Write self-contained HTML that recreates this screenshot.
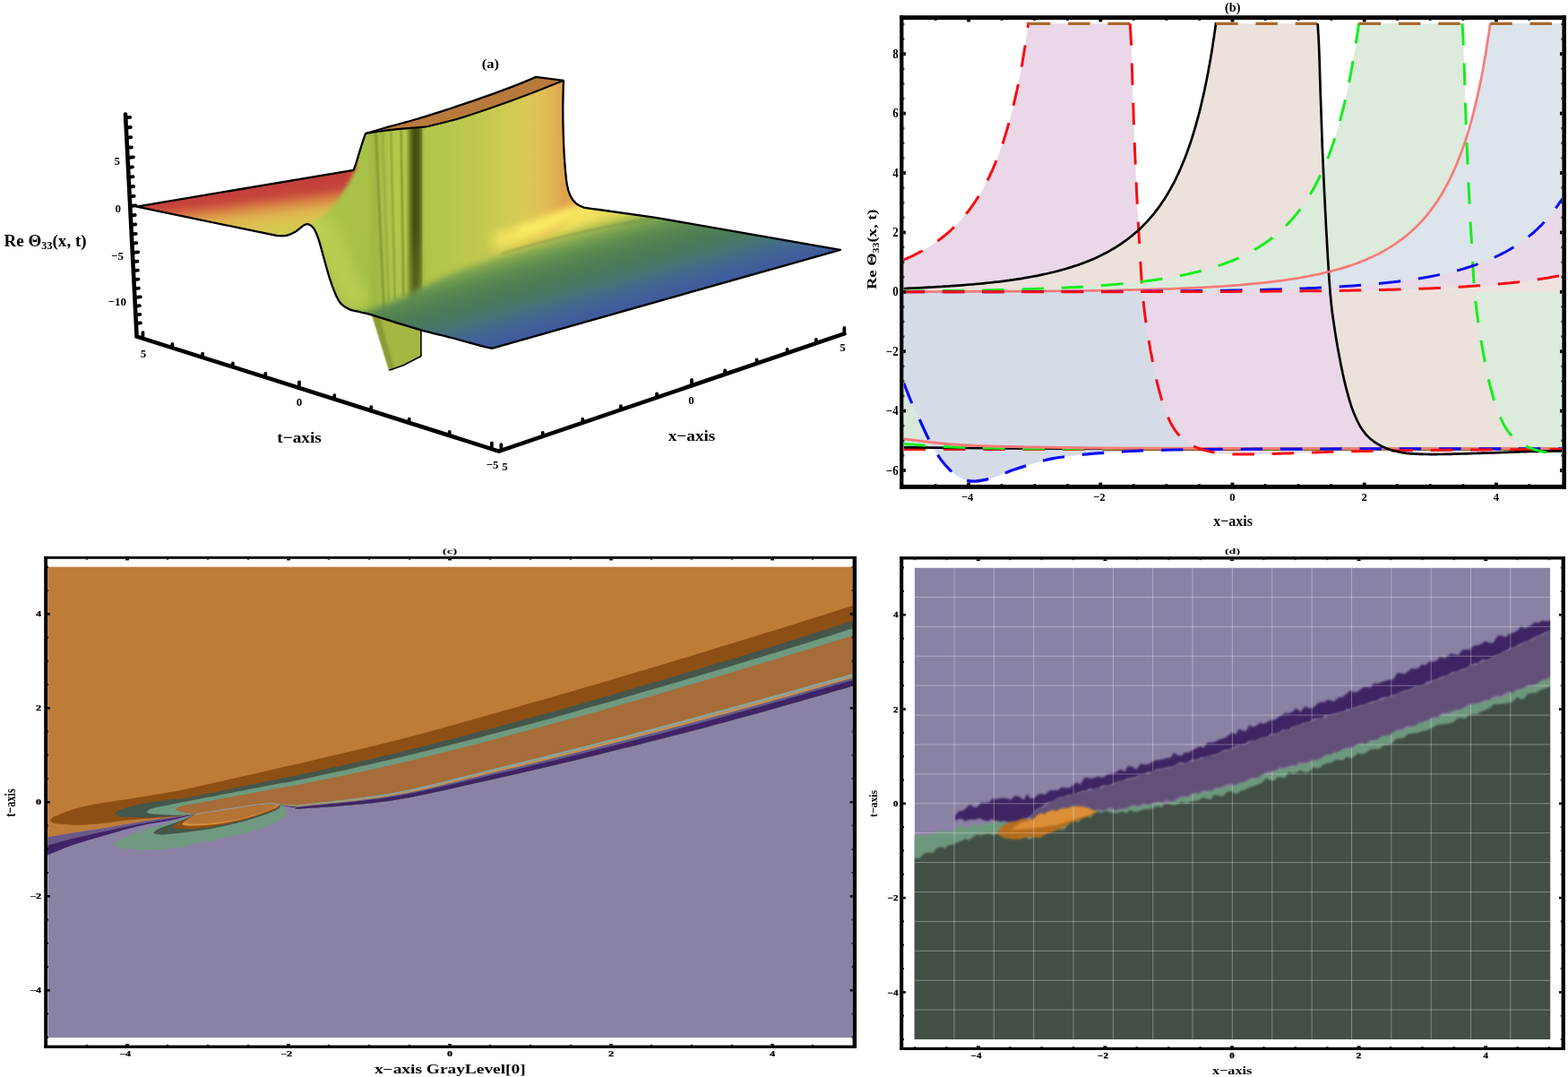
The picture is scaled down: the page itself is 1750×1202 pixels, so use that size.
<!DOCTYPE html>
<html><head><meta charset="utf-8"><title>Figure</title>
<style>
html,body{margin:0;padding:0;background:#fff;}
body{width:1750px;height:1202px;overflow:hidden;}
svg{display:block;font-family:'Liberation Serif', 'DejaVu Serif', serif;}
</style></head>
<body>
<svg width="1750" height="1202" viewBox="0 0 1750 1202">
<defs>
<clipPath id="clipC"><rect x="53.2" y="632.7" width="898.4" height="525.3"/></clipPath>
<clipPath id="clipD"><rect x="1020.6" y="633.6" width="709.6" height="526.4"/></clipPath>
<filter color-interpolation-filters="sRGB" id="blurD" x="-5%" y="-5%" width="110%" height="110%"><feGaussianBlur color-interpolation-filters="sRGB" stdDeviation="0.9"/></filter>
<clipPath id="clipB"><rect x="1008.7" y="22.3" width="734.7" height="518.5"/></clipPath>
<clipPath id="clipA"><path d="M152.4 230.6 L394.7 189.8 L394.7 189.8C395.2 188.3 396.8 184.1 397.8 181C398.8 177.9 399.7 174.5 400.8 171C401.9 167.5 403 163.7 404.2 160C405.4 156.3 407.4 150.8 408 149 L408 149C412.5 147.7 425.4 143.9 434.9 141.2C444.4 138.5 454.9 135.9 464.9 133C474.9 130.1 484.8 126.8 494.8 123.6C504.8 120.4 514.8 117 524.8 113.6C534.8 110.2 544.7 106.9 554.7 103.2C564.7 99.5 577.5 94.5 584.7 91.6C591.9 88.7 595.8 86.9 598 85.9 L628.9 89.8 L628.9 89.8C628.8 94.8 628.3 110.8 628.3 120C628.2 129.2 628.4 135.8 628.6 144.9C628.9 154 629.1 164.8 629.8 174.8C630.5 184.8 631.5 197.5 632.6 204.8C633.7 212.1 634.8 214.8 636.5 218.5C638.2 222.2 640.6 225.1 643 227.2C645.4 229.3 647.3 230.2 651 231.3C654.7 232.4 662.7 233.1 665 233.5 L665 233.5 L730 242.6 L937.8 278.8 L548.9 388.8 L548.9 388.8C546.7 388.3 543 387.7 535.5 385.7C528 383.7 514.4 379.8 503.9 377C493.3 374.2 482.8 372 472.2 369.1C461.6 366.2 450.1 362.5 440.6 359.6C431.1 356.7 421.6 353.6 415.3 351.7C409 349.8 406.9 349.6 402.7 348.5C398.5 347.4 393.8 347 390.1 345.4C386.4 343.8 383.2 342 380.6 339.1C378 336.2 376.4 332.8 374.3 328C372.2 323.2 370 317.2 367.9 310.6C365.8 304 363.7 295.9 361.6 288.5C359.5 281.1 357.2 271.9 355.3 266.4C353.4 260.9 352.2 257.9 350.5 255.3C348.8 252.7 346.8 251.2 345 250.5C343.2 249.8 342 250 339.5 251.3C337 252.6 333.2 256.5 330 258.4C326.8 260.3 323.4 262 320 262.8C316.6 263.6 311.4 263.1 309.7 263.2 L152.4 230.6Z"/></clipPath>
<filter color-interpolation-filters="sRGB" id="blA3" x="-20%" y="-20%" width="140%" height="140%"><feGaussianBlur color-interpolation-filters="sRGB" stdDeviation="3.5"/></filter>
<filter color-interpolation-filters="sRGB" id="blA6" x="-20%" y="-20%" width="140%" height="140%"><feGaussianBlur color-interpolation-filters="sRGB" stdDeviation="6"/></filter>
<filter color-interpolation-filters="sRGB" id="blA1" x="-20%" y="-20%" width="140%" height="140%"><feGaussianBlur color-interpolation-filters="sRGB" stdDeviation="1.2"/></filter>
<linearGradient id="gFloor" gradientUnits="userSpaceOnUse" x1="512.2" y1="258.9" x2="548.9" y2="388.8"><stop offset="0.000" stop-color="#f0d85a"/><stop offset="0.111" stop-color="#f2e060"/><stop offset="0.185" stop-color="#eedd5c"/><stop offset="0.237" stop-color="#d4d256"/><stop offset="0.281" stop-color="#a2b84e"/><stop offset="0.348" stop-color="#76a050"/><stop offset="0.444" stop-color="#5a8a50"/><stop offset="0.570" stop-color="#4c7c54"/><stop offset="0.674" stop-color="#487860"/><stop offset="0.763" stop-color="#45727a"/><stop offset="0.844" stop-color="#426890"/><stop offset="0.926" stop-color="#405e9a"/><stop offset="1.000" stop-color="#3f5a9c"/></linearGradient>
<linearGradient id="gWall" gradientUnits="userSpaceOnUse" x1="330" y1="0" x2="630" y2="0"><stop offset="0.0000" stop-color="#b4c94c"/><stop offset="0.0733" stop-color="#b9cd50"/><stop offset="0.1400" stop-color="#aac448"/><stop offset="0.2667" stop-color="#a9c046"/><stop offset="0.2933" stop-color="#a0b840"/><stop offset="0.3667" stop-color="#b4c84c"/><stop offset="0.4100" stop-color="#b2c64a"/><stop offset="0.4200" stop-color="#8a9a30"/><stop offset="0.4300" stop-color="#5c6a1c"/><stop offset="0.4433" stop-color="#424a10"/><stop offset="0.4567" stop-color="#4e5814"/><stop offset="0.4683" stop-color="#6e7c24"/><stop offset="0.4733" stop-color="#a8ba44"/><stop offset="0.4867" stop-color="#b4c64a"/><stop offset="0.5667" stop-color="#b6c64c"/><stop offset="0.6667" stop-color="#bfc84e"/><stop offset="0.7667" stop-color="#cccb52"/><stop offset="0.8500" stop-color="#d9c956"/><stop offset="0.9167" stop-color="#e0bf56"/><stop offset="0.9667" stop-color="#e2b052"/><stop offset="1.0000" stop-color="#e0a24e"/></linearGradient>
<linearGradient id="gPlat" gradientUnits="userSpaceOnUse" x1="28" y1="233.4" x2="35.5" y2="295.9"><stop offset="0.000" stop-color="#c33e3a"/><stop offset="0.270" stop-color="#c5443c"/><stop offset="0.365" stop-color="#cf5f40"/><stop offset="0.492" stop-color="#da8c46"/><stop offset="0.635" stop-color="#deb44e"/><stop offset="0.794" stop-color="#dac450"/><stop offset="1.000" stop-color="#cdcd52"/></linearGradient>
<filter color-interpolation-filters="sRGB" id="blA2" x="-20%" y="-20%" width="140%" height="140%"><feGaussianBlur color-interpolation-filters="sRGB" stdDeviation="2"/></filter>
<linearGradient id="gWallLow" gradientUnits="userSpaceOnUse" x1="0" y1="250" x2="0" y2="360"><stop offset="0" stop-color="#8fb44a" stop-opacity="0"/><stop offset="1" stop-color="#9cbc4c" stop-opacity="0.35"/></linearGradient>
</defs>
<rect width="1750" height="1202" fill="#fff"/>
<!-- panel c -->
<g clip-path="url(#clipC)">
<rect x="53.2" y="632.7" width="898.4" height="525.3" fill="#8b81a5" />
<path d="M53 934.4C57.8 933.6 70.8 931.1 81.6 929.4C92.4 927.6 105.9 925.9 118.1 923.9C130.3 921.9 142.5 919.5 154.7 917.5C166.9 915.5 182.9 913.2 191.3 912C199.7 910.8 200.5 910.9 205 910.3C209.5 909.7 216.2 908.9 218.4 908.6 L218.4 908.6C222 908.1 233.1 906.6 240 905.6C246.9 904.6 253.3 903.5 260 902.5C266.7 901.5 274.3 900.4 280 899.6C285.7 898.8 289.8 898.1 294 897.8C298.2 897.5 301.8 897.5 305 897.6C308.2 897.7 310.5 898.3 313 898.6C315.5 898.9 317.2 899.2 320 899.6C322.8 900 326.7 900.5 330 901C333.3 901.5 321.7 903.6 340 902.3C358.3 900.9 406.7 898 440 892.9C473.3 887.8 506.7 879.2 540 871.9C573.3 864.6 605 857.4 640 849C675 840.6 713.3 831.1 750 821.6C786.7 812.1 826.4 801.2 860 791.9C893.6 782.6 934.5 770.6 951.5 765.7C968.5 760.8 960.2 763.2 962 762.7 L962 600 L40 600Z" fill="#bf7c38"/>
<path d="M53 934.4C57.8 933.6 70.8 931.1 81.6 929.4C92.4 927.6 105.9 925.9 118.1 923.9C130.3 921.9 142.5 919.5 154.7 917.5C166.9 915.5 182.9 913.2 191.3 912C199.7 910.8 200.5 910.9 205 910.3C209.5 909.7 216.2 908.9 218.4 908.6 L218.4 908.6C216.2 909 209.5 910.2 205 911C200.5 911.8 199.7 911.9 191.3 913.4C182.9 914.9 166.9 917.4 154.7 919.8C142.5 922.1 130.3 924.8 118.1 927.5C105.9 930.2 92.4 933.1 81.6 935.8C70.8 938.5 57.8 942.2 53 943.5Z" fill="#6a598a"/>
<path d="M53 943.5C57.8 942.2 70.8 938.5 81.6 935.8C92.4 933.1 105.9 930.2 118.1 927.5C130.3 924.8 142.5 922.1 154.7 919.8C166.9 917.4 182.9 914.9 191.3 913.4C199.7 911.9 200.5 911.8 205 911C209.5 910.2 216.2 909 218.4 908.6 L218.4 908.6C216.2 909.2 209.5 910.9 205 912C200.5 913.1 199.7 913.5 191.3 915.2C182.9 916.9 166.9 919.2 154.7 922C142.5 924.8 130.3 928.6 118.1 932.1C105.9 935.6 92.4 939.4 81.6 943.1C70.8 946.8 57.8 952.6 53 954.5Z" fill="#3f2366"/>
<path d="M218.4 908.6C216.2 909.5 209.5 912.3 205 913.8C200.5 915.3 196.6 916 191.3 917.5C186 919 179.1 920.7 173 922.5C166.9 924.3 160.8 926.2 154.7 928.4C148.6 930.6 140.3 934.1 136.4 935.8C132.5 937.5 132.4 937.4 131 938.5C129.6 939.6 128.7 941.6 128.2 942.2 L128.2 942.2C128.7 942.7 129.6 944.2 131 945C132.4 945.8 132.5 946.1 136.4 946.7C140.3 947.3 148.6 948.4 154.7 948.6C160.8 948.8 166.9 948.4 173 948.1C179.1 947.8 186 947.2 191.3 946.7C196.6 946.2 200.8 946.3 205 945.4C209.2 944.5 211.6 942.4 216.6 941.2C221.6 940.1 228.7 939.6 234.8 938.5C240.9 937.4 246.9 936.2 253 934.8C259.1 933.4 265.3 932 271.4 930.3C277.5 928.6 283.6 926.9 289.7 924.8C295.8 922.7 303.4 919.6 308 917.5C312.6 915.4 315 913.7 317 912C319 910.3 319.9 909.1 320 907.4C320.1 905.6 318.8 903 317.5 901.5C316.2 900 312.9 898.8 312 898.3 L312 898.3C310.8 898 308 897 305 896.8C302 896.6 298.2 896.8 294 897.2C289.8 897.6 285.7 898.2 280 899C274.3 899.8 266.7 901 260 902C253.3 903 246.9 904.1 240 905.2C233.1 906.3 222 908 218.4 908.6Z" fill="#6f9a7f"/>
<path d="M218.4 908.6C216.2 909.6 211.1 912.4 205 914.8C198.9 917.2 187.1 921.1 182.1 923C177.1 924.9 176.8 924.9 175 926C173.2 927.1 171.8 928.8 171.1 929.4 L171.1 929.4C171.8 929.7 173.2 930.7 175 931C176.8 931.3 178.2 931.6 182.1 931.4C186 931.2 192.6 930.6 198.3 930C204.1 929.4 210.5 928.5 216.6 927.6C222.7 926.8 228.7 926 234.8 924.9C240.9 923.8 246.9 922.6 253 921.2C259.1 919.9 265.3 918.4 271.4 916.8C277.5 915.1 283.6 913.4 289.7 911.3C295.8 909.2 304.2 906 308 904.2C311.8 902.4 311.8 901.5 312.5 900.5C313.2 899.5 312.1 898.7 312 898.3 L312 898.3C310.8 898 308 897 305 896.8C302 896.6 298.2 896.8 294 897.2C289.8 897.6 285.7 898.2 280 899C274.3 899.8 266.7 901 260 902C253.3 903 246.9 904.1 240 905.2C233.1 906.3 222 908 218.4 908.6Z" fill="#45564b"/>
<path d="M218.4 908.6C216.2 909.8 208.6 914 205 915.8C201.4 917.6 199.1 918.4 197 919.5C194.9 920.6 193 922 192.2 922.5 L192.2 922.5C192.8 922.9 193.9 924.1 196 924.6C198.1 925.1 201.6 925.1 205 925.2C208.4 925.3 211.6 925.6 216.6 925.2C221.6 924.8 228.7 924 234.8 923C240.9 922 246.9 920.7 253 919.4C259.1 918.1 265.3 916.8 271.4 915.2C277.5 913.6 283.6 911.8 289.7 909.7C295.8 907.7 304.4 904.5 308 902.9C311.6 901.2 310.8 900.6 311.5 899.8C312.2 899 311.9 898.5 312 898.3 L312 898.3C310.8 898 308 897 305 896.8C302 896.6 298.2 896.8 294 897.2C289.8 897.6 285.7 898.2 280 899C274.3 899.8 266.7 901 260 902C253.3 903 246.9 904.1 240 905.2C233.1 906.3 222 908 218.4 908.6Z" fill="#8d4f13"/>
<path d="M218.4 908.6C216.7 909.8 210.6 914.2 208 916C205.4 917.8 203.8 918.9 203 919.5 L203 919.5C203.5 919.8 203.7 920.9 206 921.2C208.3 921.6 211.8 921.7 216.6 921.6C221.4 921.5 228.7 921.2 234.8 920.6C240.9 920 246.9 919 253 917.9C259.1 916.8 265.3 915.6 271.4 914C277.5 912.4 283.9 910.5 289.7 908.5C295.5 906.5 302.5 903.8 306 902.3C309.5 900.8 309.5 900.2 310.5 899.5C311.5 898.8 311.8 898.5 312 898.3 L312 898.3C310.8 898 308 897 305 896.8C302 896.6 298.2 896.8 294 897.2C289.8 897.6 285.7 898.2 280 899C274.3 899.8 266.7 901 260 902C253.3 903 246.9 904.1 240 905.2C233.1 906.3 222 908 218.4 908.6Z" fill="#d89040"/>
<path d="M218.4 908.6C217.3 909.4 213.8 912 212 913.5C210.2 915 208.2 916.8 207.5 917.5 L207.5 917.5C208.1 917.8 208.8 918.9 211 919.2C213.2 919.6 217 919.7 221 919.6C225 919.5 229.5 919.4 234.8 918.9C240.1 918.4 246.9 917.6 253 916.6C259.1 915.6 265.3 914.4 271.4 912.9C277.5 911.4 284.4 909.1 289.7 907.4C295 905.6 300.1 903.8 303.4 902.4C306.7 901 308.1 900 309.5 899.3C310.9 898.6 311.6 898.5 312 898.3 L312 898.3C310.8 898 308 897 305 896.8C302 896.6 298.2 896.8 294 897.2C289.8 897.6 285.7 898.2 280 899C274.3 899.8 266.7 901 260 902C253.3 903 246.9 904.1 240 905.2C233.1 906.3 222 908 218.4 908.6Z" fill="#b57436"/>
<path d="M56 915.6C56.4 915.1 57.3 913.4 58.5 912.5C59.7 911.6 59.4 911.7 63.3 910.2C67.1 908.7 75.5 905.2 81.6 903.3C87.7 901.4 93.7 900 99.8 898.7C105.9 897.4 112 896.5 118.1 895.5C124.2 894.5 130.3 893.7 136.4 892.8C142.5 891.9 148.6 891 154.7 890C160.8 889 166.9 887.9 173 886.9C179.1 885.9 186 884.7 191.3 883.7C196.6 882.8 199.3 882.4 205 881.2C210.7 880 214.6 879.2 225.7 876.7C236.8 874.2 257.7 869.4 271.4 866.3C285.1 863.2 296.6 860.5 308 857.9C319.4 855.3 318 856 340 850.8C362 845.6 406.7 835.3 440 826.8C473.3 818.2 506.7 808.8 540 799.5C573.3 790.2 605 781.3 640 771.1C675 760.9 713.3 749.5 750 738.5C786.7 727.5 826.4 715.2 860 704.8C893.6 694.4 934.5 681.3 951.5 675.9C968.5 670.5 960.2 673.1 962 672.6 L962 762.7C960.2 763.2 968.5 760.8 951.5 765.7C934.5 770.6 893.6 782.6 860 791.9C826.4 801.2 786.7 812.1 750 821.6C713.3 831.1 675 840.6 640 849C605 857.4 573.3 864.6 540 871.9C506.7 879.2 473.3 887.8 440 892.9C406.7 898 358.3 900.9 340 902.3C321.7 903.6 333.3 901.5 330 901C326.7 900.5 322.8 900 320 899.6C317.2 899.2 315.5 898.9 313 898.6C310.5 898.3 308.2 897.7 305 897.6C301.8 897.5 298.2 897.5 294 897.8C289.8 898.1 285.7 898.8 280 899.6C274.3 900.4 266.7 901.5 260 902.5C253.3 903.5 246.9 904.6 240 905.6C233.1 906.6 222 908.1 218.4 908.6 L218.4 908.6C216.2 908.9 209.5 909.8 205 910.3C200.5 910.8 196.6 911.1 191.3 911.5C186 911.9 179.1 912.4 173 912.9C166.9 913.4 160.8 913.8 154.7 914.3C148.6 914.8 142.5 915.4 136.4 916.1C130.3 916.8 124.2 917.7 118.1 918.4C112 919.1 105.9 919.8 99.8 920.2C93.7 920.6 87.7 920.9 81.6 920.7C75.5 920.6 67.1 919.8 63.3 919.3C59.4 918.8 59.7 918.6 58.5 918C57.3 917.4 56.4 916 56 915.6Z" fill="#8d4f13"/>
<path d="M128.2 908.3C128.6 907.8 129.1 906.4 130.5 905.5C131.9 904.6 132.4 904.2 136.4 902.9C140.4 901.6 148.6 899.2 154.7 897.8C160.8 896.4 166.9 895.5 173 894.6C179.1 893.7 186 892.9 191.3 892.3C196.6 891.7 199.3 891.8 205 890.9C210.7 890 214.6 889.2 225.7 887C236.8 884.8 257.7 880.4 271.4 877.6C285.1 874.8 296.6 872.3 308 870C319.4 867.7 318 868.4 340 863.6C362 858.8 406.7 849.1 440 841C473.3 832.9 506.7 824.1 540 815.2C573.3 806.3 605 797.6 640 787.7C675 777.8 713.3 766.6 750 755.7C786.7 744.8 826.4 732.6 860 722.2C893.6 711.8 934.5 698.7 951.5 693.3C968.5 687.9 960.2 690.5 962 690 L962 762.7C960.2 763.2 968.5 760.8 951.5 765.7C934.5 770.6 893.6 782.6 860 791.9C826.4 801.2 786.7 812.1 750 821.6C713.3 831.1 675 840.6 640 849C605 857.4 573.3 864.6 540 871.9C506.7 879.2 473.3 887.8 440 892.9C406.7 898 358.3 900.9 340 902.3C321.7 903.6 333.3 901.5 330 901C326.7 900.5 322.8 900 320 899.6C317.2 899.2 315.5 898.9 313 898.6C310.5 898.3 308.2 897.7 305 897.6C301.8 897.5 298.2 897.5 294 897.8C289.8 898.1 285.7 898.8 280 899.6C274.3 900.4 266.7 901.5 260 902.5C253.3 903.5 246.9 904.6 240 905.6C233.1 906.6 222 908.1 218.4 908.6 L218.4 908.6C216.2 908.8 209.5 909.6 205 910C200.5 910.4 196.6 910.8 191.3 911.1C186 911.4 179.1 911.8 173 912C166.9 912.2 160.8 912.5 154.7 912.4C148.6 912.3 140.4 911.8 136.4 911.5C132.4 911.2 131.9 910.9 130.5 910.4C129.1 909.9 128.6 908.6 128.2 908.3Z" fill="#45564b"/>
<path d="M163.8 906C164.2 905.6 165 904.2 166.5 903.5C168 902.8 168.9 902.5 173 901.5C177.1 900.5 186 898.9 191.3 897.8C196.6 896.7 199.3 896.1 205 895C210.7 893.9 214.6 893 225.7 890.9C236.8 888.8 257.7 884.8 271.4 882.2C285.1 879.6 296.6 877.4 308 875.3C319.4 873.1 318 874 340 869.3C362 864.5 406.7 854.7 440 846.8C473.3 838.9 506.7 830.4 540 821.7C573.3 813 605 804.5 640 794.7C675 784.9 713.3 773.9 750 763.1C786.7 752.3 826.4 740.3 860 730C893.6 719.7 934.5 706.7 951.5 701.4C968.5 696.1 960.2 698.7 962 698.1 L962 762.7C960.2 763.2 968.5 760.8 951.5 765.7C934.5 770.6 893.6 782.6 860 791.9C826.4 801.2 786.7 812.1 750 821.6C713.3 831.1 675 840.6 640 849C605 857.4 573.3 864.6 540 871.9C506.7 879.2 473.3 887.8 440 892.9C406.7 898 358.3 900.9 340 902.3C321.7 903.6 333.3 901.5 330 901C326.7 900.5 322.8 900 320 899.6C317.2 899.2 315.5 898.9 313 898.6C310.5 898.3 308.2 897.7 305 897.6C301.8 897.5 298.2 897.5 294 897.8C289.8 898.1 285.7 898.8 280 899.6C274.3 900.4 266.7 901.5 260 902.5C253.3 903.5 246.9 904.6 240 905.6C233.1 906.6 222 908.1 218.4 908.6 L218.4 908.6C216.2 908.8 209.5 909.5 205 909.7C200.5 909.9 196.6 909.9 191.3 909.7C186 909.6 177.1 909.1 173 908.8C168.9 908.5 168 908.5 166.5 908C165 907.5 164.2 906.3 163.8 906Z" fill="#6f9a7f"/>
<path d="M195.8 902.9C196.5 902.5 197.6 901 200 900.2C202.4 899.4 205.7 898.8 210 898C214.3 897.2 215.5 897.2 225.7 895.4C235.9 893.6 256.2 889.8 271.4 887C286.6 884.2 305.6 880.6 317 878.5C328.4 876.4 319.5 878.6 340 874.4C360.5 870.2 406.7 860.9 440 853.2C473.3 845.5 506.7 837 540 828.4C573.3 819.8 605 811.3 640 801.6C675 791.9 713.3 780.9 750 770.2C786.7 759.5 826.4 747.6 860 737.5C893.6 727.4 934.5 714.7 951.5 709.5C968.5 704.3 960.2 706.8 962 706.3 L962 749C960.2 749.5 968.5 747.1 951.5 751.9C934.5 756.7 893.6 768.2 860 777.5C826.4 786.8 786.7 797.7 750 807.5C713.3 817.3 675 827.2 640 836.1C605 845 573.3 852.9 540 861C506.7 869.1 473.3 878.6 440 884.7C406.7 890.8 358.3 895.4 340 897.7C321.7 900 333.3 898.2 330 898.3C326.7 898.4 322.8 898.3 320 898.2C317.2 898.1 315.5 897.8 313 897.6C310.5 897.4 308.2 896.9 305 896.8C301.8 896.7 298.2 896.8 294 897.2C289.8 897.6 285.7 898.2 280 899C274.3 899.8 266.7 901 260 902C253.3 903 246.9 904.1 240 905.2C233.1 906.3 222 908 218.4 908.6 L218.4 908.6C217.3 908.5 214.2 908.1 212 907.8C209.8 907.5 207.2 907 205 906.6C202.8 906.2 200.5 905.8 199 905.2C197.5 904.6 196.3 903.3 195.8 902.9Z" fill="#a66c39"/>
<path d="M313 897.8C314.2 897.9 317.2 898.3 320 898.4C322.8 898.5 326.7 898.6 330 898.5C333.3 898.4 321.7 900 340 897.7C358.3 895.4 406.7 890.8 440 884.7C473.3 878.6 506.7 869.1 540 861C573.3 852.9 605 845 640 836.1C675 827.2 713.3 817.3 750 807.5C786.7 797.7 826.4 786.8 860 777.5C893.6 768.2 934.5 756.7 951.5 751.9C968.5 747.1 960.2 749.5 962 749 L962 752C960.2 752.5 968.5 750.2 951.5 754.9C934.5 759.6 893.6 771.1 860 780.3C826.4 789.5 786.7 800.3 750 810C713.3 819.7 675 829.6 640 838.4C605 847.2 573.3 855 540 863C506.7 871 473.3 880.5 440 886.5C406.7 892.5 358.3 896.6 340 898.7C321.7 900.8 333.3 899.2 330 899.3C326.7 899.3 322.8 899.2 320 899C317.2 898.8 314.2 898.4 313 898.3Z" fill="#8fa39a"/>
<path d="M313 898.3C314.2 898.4 317.2 898.8 320 899C322.8 899.2 326.7 899.3 330 899.3C333.3 899.2 321.7 900.8 340 898.7C358.3 896.6 406.7 892.5 440 886.5C473.3 880.5 506.7 871 540 863C573.3 855 605 847.2 640 838.4C675 829.6 713.3 819.7 750 810C786.7 800.3 826.4 789.5 860 780.3C893.6 771.1 934.5 759.6 951.5 754.9C968.5 750.2 960.2 752.5 962 752 L962 753.8C960.2 754.3 968.5 752 951.5 756.8C934.5 761.6 893.6 773.4 860 782.7C826.4 792 786.7 802.9 750 812.6C713.3 822.3 675 832.1 640 840.8C605 849.5 573.3 857.2 540 865C506.7 872.8 473.3 882.1 440 887.8C406.7 893.5 358.3 897.4 340 899.4C321.7 901.4 333.3 899.8 330 899.8C326.7 899.8 322.8 899.5 320 899.3C317.2 899.1 314.2 898.6 313 898.5Z" fill="#c98f52"/>
<path d="M313 898.5C314.2 898.6 317.2 899.1 320 899.3C322.8 899.5 326.7 899.8 330 899.8C333.3 899.8 321.7 901.4 340 899.4C358.3 897.4 406.7 893.5 440 887.8C473.3 882.1 506.7 872.8 540 865C573.3 857.2 605 849.5 640 840.8C675 832.1 713.3 822.3 750 812.6C786.7 802.9 826.4 792 860 782.7C893.6 773.4 934.5 761.6 951.5 756.8C968.5 752 960.2 754.3 962 753.8 L962 755.9C960.2 756.4 968.5 754 951.5 758.9C934.5 763.8 893.6 775.8 860 785.2C826.4 794.6 786.7 805.5 750 815.2C713.3 824.9 675 834.6 640 843.2C605 851.8 573.3 859.3 540 866.9C506.7 874.5 473.3 883.3 440 888.8C406.7 894.3 358.3 898.1 340 900C321.7 901.9 333.3 900.3 330 900.2C326.7 900.1 322.8 899.8 320 899.5C317.2 899.2 314.2 898.8 313 898.6Z" fill="#6a598a"/>
<path d="M313 898.6C314.2 898.8 317.2 899.2 320 899.5C322.8 899.8 326.7 900.1 330 900.2C333.3 900.3 321.7 901.9 340 900C358.3 898.1 406.7 894.3 440 888.8C473.3 883.3 506.7 874.5 540 866.9C573.3 859.3 605 851.8 640 843.2C675 834.6 713.3 824.9 750 815.2C786.7 805.5 826.4 794.6 860 785.2C893.6 775.8 934.5 763.8 951.5 758.9C968.5 754 960.2 756.4 962 755.9 L962 762.7C960.2 763.2 968.5 760.8 951.5 765.7C934.5 770.6 893.6 782.6 860 791.9C826.4 801.2 786.7 812.1 750 821.6C713.3 831.1 675 840.6 640 849C605 857.4 573.3 864.6 540 871.9C506.7 879.2 473.3 887.8 440 892.9C406.7 898 358.3 900.9 340 902.3C321.7 903.7 333.3 901.7 330 901.3C326.7 900.9 322.8 900.4 320 900C317.2 899.6 314.2 899 313 898.8Z" fill="#3f2366"/>
<path d="M218.4 908.6C222 908 233.1 906.3 240 905.2C246.9 904.1 253.3 903 260 902C266.7 901 274.3 899.8 280 899C285.7 898.2 289.8 897.6 294 897.2C298.2 896.8 302 896.6 305 896.8C308 897 310.8 898 312 898.3" fill="none" stroke="#a99a9a" stroke-width="1.1"/>
</g>
<rect x="49.2" y="620.9" width="3.8" height="549" fill="#000" /><rect x="951.6" y="620.9" width="4.4" height="549" fill="#000" /><rect x="49.2" y="620.9" width="906.8" height="2.9" fill="#000" /><rect x="49.2" y="1166.6" width="906.8" height="3.3" fill="#000" />
<rect x="95.8" y="1165.8" width="2.4" height="0.9" fill="#000" />
<rect x="95.8" y="623.7" width="2.4" height="0.9" fill="#000" />
<rect x="140.1" y="1165" width="3.8" height="1.7" fill="#000" />
<rect x="140.1" y="623.7" width="3.8" height="1.7" fill="#000" />
<rect x="185.8" y="1165.8" width="2.4" height="0.9" fill="#000" />
<rect x="185.8" y="623.7" width="2.4" height="0.9" fill="#000" />
<rect x="230.8" y="1165.8" width="2.4" height="0.9" fill="#000" />
<rect x="230.8" y="623.7" width="2.4" height="0.9" fill="#000" />
<rect x="275.8" y="1165.8" width="2.4" height="0.9" fill="#000" />
<rect x="275.8" y="623.7" width="2.4" height="0.9" fill="#000" />
<rect x="320.1" y="1165" width="3.8" height="1.7" fill="#000" />
<rect x="320.1" y="623.7" width="3.8" height="1.7" fill="#000" />
<rect x="365.8" y="1165.8" width="2.4" height="0.9" fill="#000" />
<rect x="365.8" y="623.7" width="2.4" height="0.9" fill="#000" />
<rect x="410.8" y="1165.8" width="2.4" height="0.9" fill="#000" />
<rect x="410.8" y="623.7" width="2.4" height="0.9" fill="#000" />
<rect x="455.8" y="1165.8" width="2.4" height="0.9" fill="#000" />
<rect x="455.8" y="623.7" width="2.4" height="0.9" fill="#000" />
<rect x="500.1" y="1165" width="3.8" height="1.7" fill="#000" />
<rect x="500.1" y="623.7" width="3.8" height="1.7" fill="#000" />
<rect x="545.8" y="1165.8" width="2.4" height="0.9" fill="#000" />
<rect x="545.8" y="623.7" width="2.4" height="0.9" fill="#000" />
<rect x="590.8" y="1165.8" width="2.4" height="0.9" fill="#000" />
<rect x="590.8" y="623.7" width="2.4" height="0.9" fill="#000" />
<rect x="635.8" y="1165.8" width="2.4" height="0.9" fill="#000" />
<rect x="635.8" y="623.7" width="2.4" height="0.9" fill="#000" />
<rect x="680.1" y="1165" width="3.8" height="1.7" fill="#000" />
<rect x="680.1" y="623.7" width="3.8" height="1.7" fill="#000" />
<rect x="725.8" y="1165.8" width="2.4" height="0.9" fill="#000" />
<rect x="725.8" y="623.7" width="2.4" height="0.9" fill="#000" />
<rect x="770.8" y="1165.8" width="2.4" height="0.9" fill="#000" />
<rect x="770.8" y="623.7" width="2.4" height="0.9" fill="#000" />
<rect x="815.8" y="1165.8" width="2.4" height="0.9" fill="#000" />
<rect x="815.8" y="623.7" width="2.4" height="0.9" fill="#000" />
<rect x="860.1" y="1165" width="3.8" height="1.7" fill="#000" />
<rect x="860.1" y="623.7" width="3.8" height="1.7" fill="#000" />
<rect x="905.8" y="1165.8" width="2.4" height="0.9" fill="#000" />
<rect x="905.8" y="623.7" width="2.4" height="0.9" fill="#000" />
<rect x="52.9" y="1156.8" width="1" height="2" fill="#000" />
<rect x="950.7" y="1156.8" width="1" height="2" fill="#000" />
<rect x="52.9" y="1130.5" width="1" height="2" fill="#000" />
<rect x="950.7" y="1130.5" width="1" height="2" fill="#000" />
<rect x="52.9" y="1104" width="2.9" height="2.6" fill="#000" />
<rect x="948.8" y="1104" width="2.9" height="2.6" fill="#000" />
<rect x="52.9" y="1078" width="1" height="2" fill="#000" />
<rect x="950.7" y="1078" width="1" height="2" fill="#000" />
<rect x="52.9" y="1051.8" width="1" height="2" fill="#000" />
<rect x="950.7" y="1051.8" width="1" height="2" fill="#000" />
<rect x="52.9" y="1025.5" width="1" height="2" fill="#000" />
<rect x="950.7" y="1025.5" width="1" height="2" fill="#000" />
<rect x="52.9" y="999" width="2.9" height="2.6" fill="#000" />
<rect x="948.8" y="999" width="2.9" height="2.6" fill="#000" />
<rect x="52.9" y="973" width="1" height="2" fill="#000" />
<rect x="950.7" y="973" width="1" height="2" fill="#000" />
<rect x="52.9" y="946.8" width="1" height="2" fill="#000" />
<rect x="950.7" y="946.8" width="1" height="2" fill="#000" />
<rect x="52.9" y="920.5" width="1" height="2" fill="#000" />
<rect x="950.7" y="920.5" width="1" height="2" fill="#000" />
<rect x="52.9" y="894" width="2.9" height="2.6" fill="#000" />
<rect x="948.8" y="894" width="2.9" height="2.6" fill="#000" />
<rect x="52.9" y="868" width="1" height="2" fill="#000" />
<rect x="950.7" y="868" width="1" height="2" fill="#000" />
<rect x="52.9" y="841.8" width="1" height="2" fill="#000" />
<rect x="950.7" y="841.8" width="1" height="2" fill="#000" />
<rect x="52.9" y="815.5" width="1" height="2" fill="#000" />
<rect x="950.7" y="815.5" width="1" height="2" fill="#000" />
<rect x="52.9" y="789" width="2.9" height="2.6" fill="#000" />
<rect x="948.8" y="789" width="2.9" height="2.6" fill="#000" />
<rect x="52.9" y="763" width="1" height="2" fill="#000" />
<rect x="950.7" y="763" width="1" height="2" fill="#000" />
<rect x="52.9" y="736.8" width="1" height="2" fill="#000" />
<rect x="950.7" y="736.8" width="1" height="2" fill="#000" />
<rect x="52.9" y="710.5" width="1" height="2" fill="#000" />
<rect x="950.7" y="710.5" width="1" height="2" fill="#000" />
<rect x="52.9" y="684" width="2.9" height="2.6" fill="#000" />
<rect x="948.8" y="684" width="2.9" height="2.6" fill="#000" />
<rect x="52.9" y="658" width="1" height="2" fill="#000" />
<rect x="950.7" y="658" width="1" height="2" fill="#000" />
<rect x="52.9" y="631.8" width="1" height="2" fill="#000" />
<rect x="950.7" y="631.8" width="1" height="2" fill="#000" />
<text transform="translate(139.5 1178.8) scale(1.6 0.95)" font-size="7.6" font-weight="bold" text-anchor="middle" fill="#000" stroke="#000" stroke-width="0.25">−4</text>
<text transform="translate(46.2 1108.1) scale(1.6 0.95)" font-size="7.6" font-weight="bold" text-anchor="end" fill="#000" stroke="#000" stroke-width="0.25">−4</text>
<text transform="translate(319.5 1178.8) scale(1.6 0.95)" font-size="7.6" font-weight="bold" text-anchor="middle" fill="#000" stroke="#000" stroke-width="0.25">−2</text>
<text transform="translate(46.2 1003.1) scale(1.6 0.95)" font-size="7.6" font-weight="bold" text-anchor="end" fill="#000" stroke="#000" stroke-width="0.25">−2</text>
<text transform="translate(502 1178.8) scale(1.6 0.95)" font-size="7.6" font-weight="bold" text-anchor="middle" fill="#000" stroke="#000" stroke-width="0.25">0</text>
<text transform="translate(46.2 898.1) scale(1.6 0.95)" font-size="7.6" font-weight="bold" text-anchor="end" fill="#000" stroke="#000" stroke-width="0.25">0</text>
<text transform="translate(682 1178.8) scale(1.6 0.95)" font-size="7.6" font-weight="bold" text-anchor="middle" fill="#000" stroke="#000" stroke-width="0.25">2</text>
<text transform="translate(46.2 793.1) scale(1.6 0.95)" font-size="7.6" font-weight="bold" text-anchor="end" fill="#000" stroke="#000" stroke-width="0.25">2</text>
<text transform="translate(862 1178.8) scale(1.6 0.95)" font-size="7.6" font-weight="bold" text-anchor="middle" fill="#000" stroke="#000" stroke-width="0.25">4</text>
<text transform="translate(46.2 688.1) scale(1.6 0.95)" font-size="7.6" font-weight="bold" text-anchor="end" fill="#000" stroke="#000" stroke-width="0.25">4</text>
<text transform="translate(502 617.8) scale(1.5 0.85)" font-size="10" font-weight="bold" text-anchor="middle" fill="#000" >(c)</text>
<text transform="translate(502.3 1197.5) scale(1.385 1.0)" font-size="14" font-weight="bold" text-anchor="middle" fill="#000" >x−axis GrayLevel[0]</text>
<text transform="translate(17.3 896) rotate(-90) scale(0.72 1.0)" font-size="17" font-weight="bold" text-anchor="middle" fill="#000" >t−axis</text>
<!-- panel d -->
<g clip-path="url(#clipD)">
<rect x="1020.6" y="633.6" width="709.6" height="526.4" fill="#8b81a5" />
<g filter="url(#blurD)">
<path d="M1066 911 L1066 910.5 L1070.3 905.3 L1074.6 904.9 L1078.1 901.9 L1082.9 897.7 L1086.6 901 L1090.8 900.8 L1094.9 895.8 L1098.6 896.1 L1103.4 895.7 L1108 891.1 L1111.5 892 L1115.8 891.3 L1119.2 890.5 L1123.4 891 L1128.2 892.5 L1133.1 887.9 L1137.8 889.3 L1142.8 892.7 L1146.3 886.2 L1150 891 L1154.1 891 L1158 886.9 L1162 886.1 L1166.3 887 L1171.2 882.2 L1176.1 882.3 L1181.1 881.7 L1184.8 878.7 L1189.8 879.3 L1194.1 879.3 L1197.8 875.8 L1202.1 873.2 L1205.6 876 L1210.6 867.4 L1215.3 868.5 L1218.9 868.8 L1223.6 867.3 L1227 866.8 L1230.4 868.3 L1234.4 865 L1239.4 863.4 L1244.4 862.9 L1247.9 860.1 L1251.3 858.7 L1255.3 861.2 L1259 854.6 L1263.8 855.9 L1268.8 858.8 L1272.7 852.6 L1277 853.3 L1281.3 853.2 L1285.7 850.4 L1290 848.3 L1294.5 848 L1298.4 847.2 L1302.6 845.7 L1306 846 L1310.3 840.1 L1314.7 843 L1318.2 843.8 L1322.3 839.8 L1326.3 840 L1330.9 837.1 L1334.4 835.5 L1339.3 833 L1343.5 834.6 L1347.4 828.9 L1351.2 828.7 L1355.6 828.3 L1359.6 825.7 L1363 824.7 L1367.6 823.2 L1371.3 820.6 L1375.1 817.5 L1379.2 819.7 L1382.7 813.5 L1386.6 815.5 L1390.7 815.8 L1394.4 809.3 L1398.8 811.6 L1402.9 809.3 L1406.5 806.5 L1410.2 807.9 L1415 805.4 L1418.8 803.8 L1423.2 803.2 L1427.2 800.1 L1431 798 L1434.8 795.6 L1438.9 796.1 L1442.9 794 L1446.6 790.2 L1451.5 794.6 L1456.5 788.3 L1461.5 790.5 L1465.2 790.3 L1470 785.4 L1474.2 783.6 L1478.1 783.8 L1481.6 781.1 L1485.5 782 L1488.9 783.1 L1493.4 778.5 L1498.3 778.1 L1502.6 774.5 L1507.2 770.6 L1511.1 772.8 L1515.3 772 L1520.3 768.1 L1524.2 766.5 L1529 767.5 L1533.7 762.2 L1537.4 762.9 L1542.1 761.2 L1546.8 759.6 L1551.5 758.6 L1554.9 758.2 L1559.7 750.7 L1563.5 751.5 L1567.8 752.3 L1571.9 749.1 L1575.3 745.9 L1578.9 746.6 L1582.3 745.9 L1587.1 741.4 L1591.3 742.6 L1595.2 738.1 L1599.7 738.8 L1603.6 737.3 L1607.5 732.4 L1611.8 734.8 L1615.8 732.3 L1619.5 729.2 L1623.9 730.7 L1627.9 731.1 L1632.3 724.9 L1636.3 725 L1640.8 724.8 L1645.3 720.3 L1649.1 720.6 L1653.6 718.6 L1657.7 715.6 L1662.5 717.4 L1666.5 717.5 L1671.2 709.8 L1675.4 709 L1680.1 711.3 L1684.9 707 L1689.4 706.3 L1693.7 703.7 L1698.1 698.5 L1701.7 701.8 L1705.1 699.3 L1708.6 698.4 L1712.3 694.5 L1717.1 694.9 L1721.8 692.4 L1726.6 693.2 L1730.9 692.6 L1734.4 688.1 L1738.6 687.5 L1740 686 L1740 699 L1736.9 699.6 L1733.6 700.8 L1729.7 705.2 L1725.7 705.2 L1720.8 708.2 L1716.4 710.4 L1712.7 711.3 L1708.1 714.1 L1703.7 716.7 L1698.8 717.8 L1694.1 720 L1689.5 723.9 L1685 723.6 L1680 726.7 L1675.1 730.1 L1670.9 731 L1667.3 732.8 L1662.5 736.1 L1657.8 737.6 L1654.4 736.1 L1650.5 740.1 L1646.1 740.6 L1641.1 742.4 L1637.6 746 L1633.7 746.5 L1629.7 748.1 L1626 751 L1622.4 749.7 L1618.8 751.7 L1614.9 755.2 L1611.3 754.8 L1606.9 756.6 L1602.1 759 L1597.2 760.3 L1592.3 761.1 L1587.9 765.4 L1583.5 766.9 L1578.8 766.4 L1574.1 769.6 L1570.6 770.5 L1566 771.5 L1561.7 774.3 L1558.4 775.5 L1553.5 776 L1549.6 778.8 L1545.9 778.2 L1541.1 778.9 L1536.4 782.6 L1531.7 782.8 L1528 784.6 L1524.5 787.2 L1519.7 786.9 L1515.5 788.6 L1511.1 789.9 L1507.5 792.1 L1503.4 790.9 L1499.5 795.2 L1495.5 794.9 L1492 795.9 L1487.2 797 L1483 799.1 L1479 798.1 L1474.6 802.9 L1470.4 802.5 L1467 801.5 L1462.8 805.6 L1458.1 807.2 L1454.2 807.2 L1450.5 810.6 L1446.2 811.1 L1441.5 812 L1438 815.2 L1434.6 815.6 L1431.2 814.5 L1426.3 819.3 L1422 819.6 L1418.4 818.8 L1413.9 824.1 L1410.3 824.1 L1406.9 823.8 L1401.9 827.7 L1398.4 827.8 L1393.5 826.9 L1389 830.9 L1384.7 831.8 L1380.3 832.6 L1375.8 834.9 L1370.9 837.3 L1366.1 836.8 L1362.6 840.4 L1358 841.8 L1353.5 842.8 L1349.5 846 L1345.2 846.2 L1341.7 844.7 L1336.9 848 L1333.2 848.2 L1329.4 848 L1325.2 852.6 L1320.4 851.3 L1316.3 851.1 L1312.2 854.3 L1308.1 856.3 L1304 856.2 L1299.8 857.5 L1294.7 858.4 L1290.6 858.4 L1286.9 862.7 L1283.3 861.3 L1279.8 862 L1275.8 866.8 L1272.2 865.2 L1268.3 866.9 L1264.6 867.9 L1261.3 868.6 L1256.3 869.5 L1252.7 872.4 L1249 872.2 L1244.3 873.7 L1239.3 876.4 L1234.7 878.2 L1230.8 876.2 L1225.9 880.8 L1220.9 881.4 L1216.4 879.8 L1212.2 882.9 L1208.3 883.1 L1203.9 884.9 L1200.2 885.9 L1196.6 887.9 L1192.3 887 L1187.7 890 L1183.9 890.9 L1180.2 890.9 L1176.5 895.5 L1172.6 895.1 L1168.3 896.1 L1163.9 899.8 L1160.5 903 L1156.6 903.8 L1152.5 909.8 L1148.5 911.8 L1143.7 914.1 L1139.4 917.1 L1135.5 916.1 L1130.7 917 L1127.2 917.9 L1123.5 917 L1119 916 L1115.5 917.9 L1110.7 916.1 L1106.3 914 L1102.6 916.5 L1097.9 915.5 L1093 913.2 L1089.5 914.8 L1085.6 914.8 L1081.9 914.6 L1077.2 916.7 L1073.2 913.7 L1069.5 914 L1066 915.9Z" fill="#3e2462"/>
<path d="M1012 934.3 L1016.9 932.4 L1022.2 933 L1027.5 931.7 L1031.9 932.1 L1036.7 932.4 L1040.5 931.7 L1044.5 929 L1049.2 927.3 L1053.2 928.5 L1058.4 926.7 L1062.3 926.8 L1066.2 926.5 L1070 921.3 L1075.2 921.8 L1079.1 924.9 L1084.3 919.7 L1089.6 920.7 L1094.5 920.2 L1099.8 918.5 L1105.1 919.2 L1109.2 918.4 L1113.1 915.6 L1116.8 917.8 L1121.5 919 L1126.4 917.5 L1130.5 919.4 L1135 918.2 L1139.4 916.5 L1143.1 917.9 L1146.8 917.9 L1151.9 912 L1156.9 911.4 L1161.6 908.5 L1165.3 905.1 L1170.6 904.5 L1175.5 906.8 L1180.8 901.6 L1185.1 902.2 L1190.1 901.1 L1195 900.2 L1200.2 898.1 L1205.5 899.5 L1209.7 899.5 L1214.9 900.8 L1220.2 905.5 L1224.4 904 L1228.3 903.2 L1232.1 905 L1237.5 900.8 L1241.2 904.4 L1245.8 904 L1249.8 902.3 L1254.9 902.1 L1259.3 901.2 L1264.5 897.7 L1269 900.2 L1272.8 900.5 L1278.1 897.1 L1283.2 895.7 L1287.5 896.4 L1292.7 893.9 L1297.1 896.5 L1302.2 897 L1306.6 892.4 L1311.5 892.2 L1315.7 892.2 L1319.5 888.8 L1324.9 889.6 L1329.6 887.6 L1333.8 882.9 L1337.9 885.1 L1343.1 883.9 L1348.1 881.9 L1353 881.5 L1357.9 880.7 L1362.8 877.1 L1367.3 878.6 L1372.1 877.2 L1377.4 874.8 L1382.1 872.4 L1386.6 873.1 L1391.5 869.9 L1396.5 869.5 L1401.6 867.9 L1406.3 865 L1411.4 862.8 L1416.5 863.9 L1421.4 860.5 L1426.7 858.4 L1431.2 857.4 L1436.3 856.4 L1440.8 855.5 L1445.7 855.6 L1449.6 852.5 L1454.3 851.7 L1458.6 851.6 L1463.6 847.9 L1468.5 845.4 L1472.4 846.8 L1477.2 842.3 L1482 842.9 L1485.7 842.3 L1489.7 837.3 L1493.5 837.8 L1497.4 837.3 L1501.1 834.7 L1505.4 834.7 L1510.1 833.4 L1515.3 828.7 L1519.6 829.2 L1523.9 828.6 L1529 825.5 L1532.7 825.9 L1536.5 825.6 L1540.7 821.9 L1546 821.6 L1550.4 821.2 L1555.1 815.8 L1559 816.1 L1563.6 816.8 L1568.9 811.6 L1573.2 811.9 L1576.8 809.4 L1581.4 807.1 L1585.2 806.7 L1590.4 805.4 L1594.8 801.1 L1599 803 L1603.2 802.7 L1608.5 797.5 L1612.5 798.3 L1617 796.2 L1621.2 794.3 L1625.7 791.5 L1630.2 790.7 L1634.9 787.9 L1639 788.6 L1644.1 785.7 L1648.7 782.8 L1653.9 783.6 L1658 781.9 L1661.9 780.7 L1666 779.2 L1670.4 779.2 L1675.1 775.8 L1678.9 775.7 L1683.1 774.9 L1687.3 770.6 L1691.8 770.5 L1696.1 771.3 L1700.8 765.1 L1704.8 765.8 L1710.1 766.2 L1714.6 759.2 L1719.6 759.2 L1724.3 759.3 L1729 754.3 L1734.3 752.8 L1738.6 754 L1740 751 L1745 1170 L1012 1170Z" fill="#6e987d"/>
<path d="M1012 967.1 L1017.1 960.6 L1021.2 957.6 L1025.9 958.3 L1030.9 952.8 L1035.9 951.2 L1040.9 952 L1045.3 947 L1050.1 944.9 L1054.7 946.9 L1058.8 943 L1063.6 942.8 L1067.8 940.3 L1072.9 938.9 L1077.3 935.9 L1081.2 937.8 L1085.3 934.8 L1090 931.6 L1094.8 932.5 L1100.1 930.9 L1104.6 930.6 L1109.4 932.5 L1114.8 928.9 L1119.1 934.2 L1123.2 936.2 L1127 935 L1131.5 933.4 L1136.3 935.6 L1140.3 933.7 L1144.1 933.9 L1149.3 937.2 L1152.9 934.8 L1156.5 933.9 L1161.7 935 L1165.9 930 L1170.2 928.6 L1175.6 927.8 L1180 926.1 L1184.3 926.1 L1188.3 925.3 L1193.5 918.7 L1198.7 916.6 L1203.8 917.5 L1208.3 912.3 L1213.2 911.5 L1217 912.7 L1221.1 907.4 L1226.1 905.9 L1229.7 906.9 L1234.4 905.1 L1238.4 906.5 L1243.7 907.4 L1248 907.1 L1252.7 905.8 L1257.2 907.4 L1261 903.9 L1265.2 905.8 L1269.4 906.1 L1274.7 903.7 L1279 903 L1283.2 903 L1287.7 901.2 L1292.9 899.7 L1296.6 901.2 L1300.3 896.6 L1305.2 897.2 L1310.1 898.7 L1315.4 896.8 L1319.1 894.8 L1324.4 896.9 L1328.8 894.4 L1333.9 893.7 L1338.3 893.1 L1342.6 889.9 L1347.3 891.6 L1351.2 892.2 L1354.9 886.9 L1359.7 888.1 L1364.9 889 L1369.8 883.6 L1374.9 883.4 L1379.6 886.6 L1384.8 882.5 L1389.2 881.4 L1394.3 878.9 L1399.6 877 L1403.9 875.8 L1408.4 873.7 L1413.2 868.5 L1418.3 871.1 L1422.4 871.1 L1426.1 867.3 L1430.2 867.8 L1434.6 868.1 L1438.3 861.7 L1443.3 863.7 L1447.9 861.9 L1451.8 859.6 L1455.5 861.9 L1460.5 861.9 L1465.4 856 L1469.1 857.4 L1472.9 857.1 L1477.3 853.2 L1481.1 851.7 L1485.6 851.6 L1490.2 848.2 L1494.3 848 L1498.9 848.8 L1502.9 844.5 L1507.5 846.6 L1511.9 844 L1516 840.5 L1520.7 842 L1525.3 839.8 L1529.5 836.5 L1533.9 836 L1539.3 835.9 L1544 832 L1548.8 831.4 L1553.1 830.6 L1558.4 824.2 L1563.2 824.3 L1566.9 823.2 L1571.8 819.1 L1576.7 818.4 L1581 818.1 L1585.5 816.7 L1589.6 815.6 L1594.8 814.3 L1599.3 811.8 L1604.4 809.1 L1609.2 808.6 L1613 807.9 L1616.7 807.5 L1621.6 806.3 L1626.6 802 L1630.7 800.8 L1634.6 802.4 L1639.6 797.9 L1643.6 796.9 L1647.7 797.7 L1652.6 794.2 L1657.5 792.6 L1662.5 790.3 L1667.2 786.1 L1671.4 786.1 L1676.7 785.6 L1682 784.8 L1686.4 784 L1690.1 781.8 L1693.7 777.8 L1697.3 780.4 L1701.1 779.7 L1705.2 774 L1709.5 773.6 L1714.9 773.6 L1719.5 769.8 L1724.3 768.6 L1728.3 767.2 L1733.5 762.8 L1738 764.4 L1740 762.5 L1745 1170 L1012 1170Z" fill="#414f45"/>
<path d="M1112.4 930.5 L1116 925 L1119.7 921 L1124 919.5 L1128.8 916.6 L1133 917.5 L1138 914.7 L1143 913 L1147 915.5 L1152 911.5 L1156.3 910 L1160 905.5 L1166 904.5 L1170 905 L1178 902.5 L1182.9 902.2 L1190 900.8 L1196 899.5 L1201 898.5 L1207 899.6 L1214 901 L1220 902.5 L1224.5 905.5 L1222 908 L1214.8 911.3 L1206 914.5 L1196.6 917.7 L1190 921.5 L1182.9 925 L1176 928 L1169 930.5 L1162 934 L1156.3 934.8 L1147 934 L1140 936.5 L1128.8 936.7 L1119.7 934.8Z" fill="#b56c1c"/>
<path d="M1128 926 L1134 922 L1140 918 L1147 916.5 L1152 912.5 L1156.3 911 L1160 906.5 L1166 905.5 L1170 906 L1178 903.5 L1182.9 903.2 L1190 901.8 L1196 900.5 L1201 899.5 L1207 900.6 L1214 902 L1220 903.5 L1223.5 905.5 L1214.8 909.8 L1206 912.5 L1196.6 915 L1188 918 L1180 920.5 L1170 922 L1160 923.5 L1150 925 L1140 925.5Z" fill="#dc8f36"/>
</g>
<path d="M1065 633.6V1160.0M1020.6 666.5H1730.2M1109.3 633.6V1160.0M1020.6 699.4H1730.2M1153.7 633.6V1160.0M1020.6 732.3H1730.2M1198 633.6V1160.0M1020.6 765.2H1730.2M1242.3 633.6V1160.0M1020.6 798.1H1730.2M1286.7 633.6V1160.0M1020.6 831H1730.2M1331 633.6V1160.0M1020.6 863.9H1730.2M1375.4 633.6V1160.0M1020.6 896.8H1730.2M1419.8 633.6V1160.0M1020.6 929.7H1730.2M1464.1 633.6V1160.0M1020.6 962.6H1730.2M1508.5 633.6V1160.0M1020.6 995.5H1730.2M1552.8 633.6V1160.0M1020.6 1028.4H1730.2M1597.2 633.6V1160.0M1020.6 1061.3H1730.2M1641.5 633.6V1160.0M1020.6 1094.2H1730.2M1685.8 633.6V1160.0M1020.6 1127.1H1730.2" stroke="#fff" stroke-opacity="0.33" stroke-width="1.0" fill="none"/>
<path d="M1150 911 L1152 909.3 L1157 903.7 L1161.5 900.7 L1165.3 900.9 L1169 896.7 L1173.1 894.8 L1177.3 893.1 L1182.1 889.7 L1185.8 889 L1189.6 889.5 L1194.5 886.7 L1198.1 886.1 L1203.1 885.1 L1207.5 883.1 L1212 882.4 L1216.5 882.4 L1220.9 880.7 L1225.3 878.7 L1228.8 880.3 L1232.9 876.3 L1237.9 876.3 L1242.5 876.3 L1246.3 872.7 L1251.1 871.3 L1255.8 870.7 L1260.3 869.1 L1265.3 868.5 L1269.5 866.8 L1273.1 864.9 L1277.3 863.4 L1282.2 863.6 L1286.7 860.2 L1290.5 859.3 L1294.4 859.4 L1298.5 857 L1303.2 857.3 L1306.9 856 L1310.5 854.2 L1315.5 852.5 L1320.2 852.4 L1323.6 851.1 L1327.5 849.7 L1331.6 849.5 L1335.6 847.3 L1339.7 847 L1343.6 845.7 L1347.1 843.2 L1351.3 843 L1356 842.6 L1360.6 840.6 L1364 838 L1367.6 838.2 L1371.9 835.8 L1375.9 835.3 L1379.3 834.5 L1383 831.8 L1386.4 831.4 L1391 830.7 L1395.4 826.4 L1400.3 826 L1403.8 826.1 L1408 823.2 L1411.7 821.9 L1416 822 L1419.6 819.4 L1424.1 819 L1428.3 817.6 L1432.3 814.3 L1436 814 L1439.5 814 L1444.1 810.6 L1447.4 809.5 L1451.5 808.4 L1456.5 806.6 L1460.7 805.8 L1464.4 804.5 L1468.7 802.8 L1473.1 800.5 L1477.5 801.8 L1482.1 799 L1487.1 796.7 L1491 797 L1496 793.7 L1500.9 793.8 L1505.1 792.8 L1510.1 790.1 L1514 789.6 L1517.7 788.3 L1522.6 786.2 L1526.5 784.5 L1530.9 785 L1535.4 782.4 L1540 781.4 L1544.4 780 L1548.5 777.6 L1552.7 777.5 L1556.5 775.5 L1561.1 772.9 L1565.2 771.8 L1569.9 771.2 L1573.8 769.4 L1578 767.3 L1582.8 766.6 L1586.8 764.8 L1591.5 763.1 L1595.3 762.6 L1599.6 759.5 L1603.6 758.5 L1608.3 756.7 L1612.8 754.4 L1617.8 753.3 L1622.5 750.7 L1626.9 748.7 L1630.4 747.5 L1635.2 747.3 L1640.1 742.3 L1644.5 742.7 L1648.9 740.6 L1652.4 739 L1657.2 737.1 L1661.1 736.5 L1665.9 732.9 L1670.2 730.7 L1674.1 729.9 L1678 727.1 L1681.6 726.5 L1685.5 724.4 L1689.3 721.8 L1693.4 721.3 L1696.9 719.4 L1700.7 716.1 L1705.4 714.4 L1708.8 714.5 L1713.4 711.4 L1717.7 708.9 L1722.6 708.2 L1726.7 704.4 L1731.6 703.6 L1736.6 700.5 L1740 699 L1740 751 L1738.4 751.3 L1733.9 752.9 L1729.8 755.5 L1726.1 757.7 L1720.8 759.1 L1715.5 763.2 L1710.5 764.6 L1705.5 764.4 L1701.4 767.2 L1697.4 769 L1692.3 769.2 L1688.6 773.4 L1684.8 771.8 L1679.5 773.8 L1675.5 776.9 L1671.5 776.5 L1666.7 777.6 L1662.2 780.9 L1657.2 781.3 L1651.9 783.7 L1648.1 784.7 L1644.1 785.2 L1639.1 786.3 L1634.8 789.1 L1629.7 792 L1624.4 792.1 L1619.1 794.3 L1614.1 795.8 L1609.1 796.1 L1604.5 800.4 L1600.3 800 L1596.3 801.9 L1592.4 803.7 L1588.1 805.7 L1583.4 806.5 L1579.7 810.2 L1575 810.5 L1569.9 810.5 L1564.7 814.3 L1560 814.3 L1555.3 816.4 L1550.9 820.2 L1547.1 820.8 L1542.2 820.9 L1537.6 825.1 L1533.9 826.1 L1529.3 826.1 L1524.7 830.2 L1519.3 828.9 L1514 831 L1508.7 834.3 L1504.8 834.3 L1500.2 835.2 L1496.3 837.2 L1492.3 839.4 L1488.5 839.7 L1484.6 842.5 L1480.9 841.9 L1476.5 844.6 L1471.5 847.5 L1467.6 848.2 L1463.3 848.5 L1458.4 850.9 L1454.7 851.6 L1450.1 850.7 L1446.2 854.6 L1442.4 854.1 L1437.1 855.3 L1432.8 857.1 L1429 856.6 L1424.3 859.5 L1419 860.8 L1413.7 861.4 L1409.6 864.1 L1405.7 866.8 L1401.5 868 L1397.2 867.8 L1391.8 871.1 L1387.5 872.9 L1383.4 873.4 L1378.9 876.6 L1373.9 875 L1368.9 875.6 L1364.2 878.4 L1360 879.2 L1356 879.4 L1351.8 882.9 L1348.2 882.2 L1342.8 882.2 L1338.4 885.3 L1333.3 885 L1329.5 886.3 L1324.8 889.5 L1320.6 888.7 L1315.9 889.8 L1310.6 894 L1306.7 894.5 L1301.4 893 L1297.5 896.1 L1292.9 894.4 L1287.6 895.8 L1283.7 898 L1279.9 897.7 L1275.6 897.1 L1270.3 899.8 L1266.6 898.5 L1262 899 L1258.4 901.8 L1253.2 902.8 L1249.3 902.5 L1245.5 905 L1241.2 901.7 L1236.7 901.8 L1233 904.9 L1227.8 904 L1222.7 904 L1218.8 903.7 L1215 901.1 L1210.1 899.8 L1206 899.6 L1201 899.2 L1196 899.5 L1190.8 901.9 L1187 901.1 L1183.1 902.4 L1178.7 904.9 L1174.4 903.4 L1169.7 905.1 L1165.9 908.7 L1161.4 907.6 L1156.3 910.6 L1152 915.4Z" fill="#635078" filter="url(#blurD)"/>
</g>
<rect x="1004.1" y="621.1" width="4.1" height="550.9" fill="#000" /><rect x="1742.6" y="621.1" width="4.3" height="550.9" fill="#000" /><rect x="1004.1" y="621.1" width="742.8" height="3.4" fill="#000" /><rect x="1004.1" y="1168.8" width="742.8" height="3.2" fill="#000" />
<rect x="1019.8" y="1168.2" width="2.4" height="0.7" fill="#000" />
<rect x="1019.8" y="624.4" width="2.4" height="0.7" fill="#000" />
<rect x="1055.2" y="1168.2" width="2.4" height="0.7" fill="#000" />
<rect x="1055.2" y="624.4" width="2.4" height="0.7" fill="#000" />
<rect x="1089.8" y="1167.3" width="4" height="1.6" fill="#000" />
<rect x="1089.8" y="624.4" width="4" height="1.6" fill="#000" />
<rect x="1126" y="1168.2" width="2.4" height="0.7" fill="#000" />
<rect x="1126" y="624.4" width="2.4" height="0.7" fill="#000" />
<rect x="1161.4" y="1168.2" width="2.4" height="0.7" fill="#000" />
<rect x="1161.4" y="624.4" width="2.4" height="0.7" fill="#000" />
<rect x="1196.8" y="1168.2" width="2.4" height="0.7" fill="#000" />
<rect x="1196.8" y="624.4" width="2.4" height="0.7" fill="#000" />
<rect x="1231.4" y="1167.3" width="4" height="1.6" fill="#000" />
<rect x="1231.4" y="624.4" width="4" height="1.6" fill="#000" />
<rect x="1267.6" y="1168.2" width="2.4" height="0.7" fill="#000" />
<rect x="1267.6" y="624.4" width="2.4" height="0.7" fill="#000" />
<rect x="1303" y="1168.2" width="2.4" height="0.7" fill="#000" />
<rect x="1303" y="624.4" width="2.4" height="0.7" fill="#000" />
<rect x="1338.4" y="1168.2" width="2.4" height="0.7" fill="#000" />
<rect x="1338.4" y="624.4" width="2.4" height="0.7" fill="#000" />
<rect x="1373" y="1167.3" width="4" height="1.6" fill="#000" />
<rect x="1373" y="624.4" width="4" height="1.6" fill="#000" />
<rect x="1409.2" y="1168.2" width="2.4" height="0.7" fill="#000" />
<rect x="1409.2" y="624.4" width="2.4" height="0.7" fill="#000" />
<rect x="1444.6" y="1168.2" width="2.4" height="0.7" fill="#000" />
<rect x="1444.6" y="624.4" width="2.4" height="0.7" fill="#000" />
<rect x="1480" y="1168.2" width="2.4" height="0.7" fill="#000" />
<rect x="1480" y="624.4" width="2.4" height="0.7" fill="#000" />
<rect x="1514.6" y="1167.3" width="4" height="1.6" fill="#000" />
<rect x="1514.6" y="624.4" width="4" height="1.6" fill="#000" />
<rect x="1550.8" y="1168.2" width="2.4" height="0.7" fill="#000" />
<rect x="1550.8" y="624.4" width="2.4" height="0.7" fill="#000" />
<rect x="1586.2" y="1168.2" width="2.4" height="0.7" fill="#000" />
<rect x="1586.2" y="624.4" width="2.4" height="0.7" fill="#000" />
<rect x="1621.6" y="1168.2" width="2.4" height="0.7" fill="#000" />
<rect x="1621.6" y="624.4" width="2.4" height="0.7" fill="#000" />
<rect x="1656.2" y="1167.3" width="4" height="1.6" fill="#000" />
<rect x="1656.2" y="624.4" width="4" height="1.6" fill="#000" />
<rect x="1692.4" y="1168.2" width="2.4" height="0.7" fill="#000" />
<rect x="1692.4" y="624.4" width="2.4" height="0.7" fill="#000" />
<rect x="1727.8" y="1168.2" width="2.4" height="0.7" fill="#000" />
<rect x="1727.8" y="624.4" width="2.4" height="0.7" fill="#000" />
<rect x="1008.1" y="1159" width="0.9" height="2" fill="#000" />
<rect x="1741.8" y="1159" width="0.9" height="2" fill="#000" />
<rect x="1008.1" y="1132.7" width="0.9" height="2" fill="#000" />
<rect x="1741.8" y="1132.7" width="0.9" height="2" fill="#000" />
<rect x="1008.1" y="1106.1" width="2.7" height="2.6" fill="#000" />
<rect x="1740" y="1106.1" width="2.7" height="2.6" fill="#000" />
<rect x="1008.1" y="1080" width="0.9" height="2" fill="#000" />
<rect x="1741.8" y="1080" width="0.9" height="2" fill="#000" />
<rect x="1008.1" y="1053.7" width="0.9" height="2" fill="#000" />
<rect x="1741.8" y="1053.7" width="0.9" height="2" fill="#000" />
<rect x="1008.1" y="1027.4" width="0.9" height="2" fill="#000" />
<rect x="1741.8" y="1027.4" width="0.9" height="2" fill="#000" />
<rect x="1008.1" y="1000.8" width="2.7" height="2.6" fill="#000" />
<rect x="1740" y="1000.8" width="2.7" height="2.6" fill="#000" />
<rect x="1008.1" y="974.8" width="0.9" height="2" fill="#000" />
<rect x="1741.8" y="974.8" width="0.9" height="2" fill="#000" />
<rect x="1008.1" y="948.4" width="0.9" height="2" fill="#000" />
<rect x="1741.8" y="948.4" width="0.9" height="2" fill="#000" />
<rect x="1008.1" y="922.1" width="0.9" height="2" fill="#000" />
<rect x="1741.8" y="922.1" width="0.9" height="2" fill="#000" />
<rect x="1008.1" y="895.5" width="2.7" height="2.6" fill="#000" />
<rect x="1740" y="895.5" width="2.7" height="2.6" fill="#000" />
<rect x="1008.1" y="869.5" width="0.9" height="2" fill="#000" />
<rect x="1741.8" y="869.5" width="0.9" height="2" fill="#000" />
<rect x="1008.1" y="843.2" width="0.9" height="2" fill="#000" />
<rect x="1741.8" y="843.2" width="0.9" height="2" fill="#000" />
<rect x="1008.1" y="816.8" width="0.9" height="2" fill="#000" />
<rect x="1741.8" y="816.8" width="0.9" height="2" fill="#000" />
<rect x="1008.1" y="790.2" width="2.7" height="2.6" fill="#000" />
<rect x="1740" y="790.2" width="2.7" height="2.6" fill="#000" />
<rect x="1008.1" y="764.2" width="0.9" height="2" fill="#000" />
<rect x="1741.8" y="764.2" width="0.9" height="2" fill="#000" />
<rect x="1008.1" y="737.9" width="0.9" height="2" fill="#000" />
<rect x="1741.8" y="737.9" width="0.9" height="2" fill="#000" />
<rect x="1008.1" y="711.6" width="0.9" height="2" fill="#000" />
<rect x="1741.8" y="711.6" width="0.9" height="2" fill="#000" />
<rect x="1008.1" y="684.9" width="2.7" height="2.6" fill="#000" />
<rect x="1740" y="684.9" width="2.7" height="2.6" fill="#000" />
<rect x="1008.1" y="658.9" width="0.9" height="2" fill="#000" />
<rect x="1741.8" y="658.9" width="0.9" height="2" fill="#000" />
<rect x="1008.1" y="632.6" width="0.9" height="2" fill="#000" />
<rect x="1741.8" y="632.6" width="0.9" height="2" fill="#000" />
<text transform="translate(1089.6 1181.4) scale(1.3 1.0)" font-size="8.4" font-weight="bold" text-anchor="middle" fill="#000" stroke="#000" stroke-width="0.3">−4</text>
<text transform="translate(1002.5 1110.5) scale(1.3 1.0)" font-size="8.4" font-weight="bold" text-anchor="end" fill="#000" stroke="#000" stroke-width="0.3">−4</text>
<text transform="translate(1231.2 1181.4) scale(1.3 1.0)" font-size="8.4" font-weight="bold" text-anchor="middle" fill="#000" stroke="#000" stroke-width="0.3">−2</text>
<text transform="translate(1002.5 1005.2) scale(1.3 1.0)" font-size="8.4" font-weight="bold" text-anchor="end" fill="#000" stroke="#000" stroke-width="0.3">−2</text>
<text transform="translate(1375 1181.4) scale(1.3 1.0)" font-size="8.4" font-weight="bold" text-anchor="middle" fill="#000" stroke="#000" stroke-width="0.3">0</text>
<text transform="translate(1002.5 899.9) scale(1.3 1.0)" font-size="8.4" font-weight="bold" text-anchor="end" fill="#000" stroke="#000" stroke-width="0.3">0</text>
<text transform="translate(1516.6 1181.4) scale(1.3 1.0)" font-size="8.4" font-weight="bold" text-anchor="middle" fill="#000" stroke="#000" stroke-width="0.3">2</text>
<text transform="translate(1002.5 794.6) scale(1.3 1.0)" font-size="8.4" font-weight="bold" text-anchor="end" fill="#000" stroke="#000" stroke-width="0.3">2</text>
<text transform="translate(1658.2 1181.4) scale(1.3 1.0)" font-size="8.4" font-weight="bold" text-anchor="middle" fill="#000" stroke="#000" stroke-width="0.3">4</text>
<text transform="translate(1002.5 689.3) scale(1.3 1.0)" font-size="8.4" font-weight="bold" text-anchor="end" fill="#000" stroke="#000" stroke-width="0.3">4</text>
<text transform="translate(1375.5 618.3) scale(1.4 0.85)" font-size="10" font-weight="bold" text-anchor="middle" fill="#000" >(d)</text>
<text transform="translate(1375.2 1199) scale(1.16 0.9)" font-size="14" font-weight="bold" text-anchor="middle" fill="#000" >x−axis</text>
<text transform="translate(978.8 897) rotate(-90) scale(0.9 1.0)" font-size="13" font-weight="bold" text-anchor="middle" fill="#000" >t−axis</text>
<!-- panel b -->
<g clip-path="url(#clipB)">
<path d="M1008.7 325.8 L1008.7 499.3C1023.9 499.5 1059.8 500 1100 500.3C1140.2 500.6 1142.8 500.9 1250 501C1357.2 501.1 1661.2 501.1 1743.5 501.1 L1743.4 325.8Z" fill="#d8e8da"/>
<path d="M1008.7 325.8 L1008.7 427.5C1010.1 431 1014 441.5 1017.1 448.6C1020.2 455.7 1023.5 462.4 1027.1 470C1030.7 477.6 1034.8 487.2 1038.6 494.3C1042.4 501.4 1046.4 507.9 1050 512.9C1053.6 517.9 1056.9 521.2 1060 524.3C1063.1 527.4 1065.3 529.4 1068.6 531.4C1071.9 533.4 1076.7 535.4 1080 536.4C1083.3 537.4 1085.3 537.3 1088.6 537.1C1091.9 536.9 1096.2 536.2 1100 535.4C1103.8 534.6 1106.2 534 1111.4 532.1C1116.6 530.2 1124.2 526.8 1131.4 524.3C1138.6 521.8 1147.2 519.2 1154.3 517.1C1161.4 515 1167.2 513.3 1174.3 511.9C1181.4 510.5 1189.7 509.5 1197.1 508.6C1204.5 507.7 1211.2 506.9 1218.6 506.3C1226 505.7 1234 505.3 1241.4 504.8C1248.8 504.3 1251.6 504 1262.9 503.5C1274.2 503 1286.6 502.4 1309.4 502C1332.2 501.6 1359.9 501.4 1400 501.2C1440.1 501 1492.8 501 1550 500.9C1607.2 500.8 1711.2 500.8 1743.5 500.8 L1743.4 325.8Z" fill="#d5dce8"/>
<path d="M1008.7 325.8 L1007.5 290.4 L1009.2 289.7 L1011 289 L1012.7 288.2 L1014.4 287.4 L1016.1 286.7 L1017.8 285.9 L1019.5 285 L1021.2 284.2 L1022.8 283.4 L1024.5 282.5 L1026.1 281.6 L1027.8 280.8 L1029.4 279.9 L1031 279 L1032.6 278 L1034.2 277.1 L1035.7 276.1 L1037.3 275.2 L1038.8 274.2 L1040.4 273.2 L1041.9 272.1 L1043.4 271.1 L1044.9 270 L1046.4 269 L1047.9 267.9 L1049.4 266.8 L1050.9 265.7 L1052.3 264.5 L1053.7 263.4 L1055.2 262.2 L1056.6 261 L1058 259.8 L1059.4 258.5 L1060.8 257.3 L1062.2 256 L1063.5 254.7 L1064.9 253.4 L1066.2 252.1 L1067.6 250.8 L1068.9 249.4 L1070.2 248 L1071.5 246.6 L1072.8 245.2 L1074 243.7 L1075.3 242.3 L1076.6 240.8 L1077.8 239.3 L1079 237.7 L1080.3 236.2 L1081.5 234.6 L1082.7 233 L1083.9 231.4 L1085 229.8 L1086.2 228.1 L1087.4 226.5 L1088.5 224.8 L1089.6 223 L1090.8 221.3 L1091.9 219.5 L1093 217.7 L1094.1 215.9 L1095.2 214.1 L1096.2 212.2 L1097.3 210.4 L1098.3 208.5 L1099.4 206.6 L1100.4 204.6 L1101.4 202.6 L1102.4 200.7 L1103.4 198.7 L1104.4 196.6 L1105.3 194.6 L1106.3 192.5 L1107.3 190.4 L1108.2 188.3 L1109.1 186.2 L1110 184 L1110.9 181.8 L1111.8 179.6 L1112.7 177.4 L1113.6 175.2 L1114.4 172.9 L1115.3 170.7 L1116.1 168.4 L1117 166.1 L1117.8 163.7 L1118.6 161.4 L1119.4 159 L1120.2 156.7 L1120.9 154.3 L1121.7 151.9 L1122.4 149.5 L1123.2 147 L1123.9 144.6 L1124.6 142.2 L1125.3 139.7 L1126 137.2 L1126.7 134.7 L1127.4 132.3 L1128.1 129.8 L1128.7 127.3 L1129.3 124.8 L1130 122.3 L1130.6 119.8 L1131.2 117.2 L1131.8 114.7 L1132.4 112.2 L1133 109.7 L1133.5 107.2 L1134.1 104.7 L1134.6 102.3 L1135.2 99.8 L1135.7 97.3 L1136.2 94.9 L1136.7 92.4 L1137.2 90 L1137.6 87.6 L1138.1 85.2 L1138.6 82.8 L1139 80.5 L1139.4 78.2 L1139.9 75.9 L1140.3 73.6 L1140.7 71.4 L1141.1 69.2 L1141.4 67 L1141.8 64.9 L1142.2 62.8 L1142.5 60.7 L1142.8 58.7 L1143.2 56.7 L1143.5 54.8 L1143.8 52.9 L1144.1 51.1 L1144.4 49.3 L1144.6 47.5 L1144.9 45.9 L1145.1 44.3 L1145.4 42.7 L1145.6 41.2 L1145.8 39.8 L1146 38.4 L1146.2 37.1 L1146.4 35.8 L1146.5 34.6 L1146.7 33.5 L1146.9 32.5 L1147 31.5 L1147.1 30.6 L1147.2 29.8 L1147.3 29.1 L1147.4 28.4 L1147.5 27.8 L1147.6 27.3 L1147.6 26.9 L1147.7 26.5 L1147.7 26.3 L1147.8 26.3 L1147.8 26.3 L1147.8 26.3 L1261.2 26.3 L1261.2 26.3 L1261.2 26.3 L1261.2 26.4 L1261.2 26.9 L1261.3 27.6 L1261.3 28.7 L1261.4 29.9 L1261.5 31.4 L1261.6 33.2 L1261.7 35.2 L1261.9 37.5 L1262 40.2 L1262.2 43.4 L1262.4 47.2 L1262.6 51.9 L1262.8 57.7 L1263.1 64.8 L1263.3 73.1 L1263.6 82.4 L1263.9 92.3 L1264.2 102.5 L1264.6 112.9 L1265 124 L1265.3 135.5 L1265.7 147.1 L1266.2 158.3 L1266.6 169.4 L1267.1 180.4 L1267.6 191.5 L1268.1 202.7 L1268.6 214.2 L1269.2 226 L1269.8 237.7 L1270.4 249.3 L1271 260.5 L1271.6 272 L1272.3 283.7 L1273 295.5 L1273.7 307 L1274.4 317.8 L1275.2 327.5 L1276 336 L1276.8 343.4 L1277.6 350 L1278.4 356 L1279.3 362 L1280.2 368.2 L1281.1 374.1 L1282.1 379.9 L1283.1 385.5 L1284 391 L1285.1 396.5 L1286.1 402.1 L1287.2 407.6 L1288.3 412.9 L1289.4 418.1 L1290.5 423.2 L1291.7 428.2 L1292.9 432.9 L1294.1 437.5 L1295.3 441.9 L1296.6 446.4 L1297.9 450.7 L1299.2 454.8 L1300.5 458.4 L1301.9 461.8 L1303.3 465 L1304.7 468.2 L1306.1 471.2 L1307.6 474 L1309.1 476.6 L1310.6 479 L1312.2 481.2 L1313.7 483.2 L1315.3 485.1 L1316.9 486.8 L1318.6 488.5 L1320.3 490 L1322 491.4 L1323.7 492.7 L1325.4 493.9 L1327.2 495.1 L1329 496.1 L1330.9 497.2 L1332.7 498.1 L1334.6 499.1 L1336.5 499.9 L1338.5 500.6 L1340.4 501.3 L1342.4 501.9 L1344.4 502.5 L1346.5 503 L1348.6 503.6 L1350.7 504.1 L1352.8 504.6 L1355 505 L1357.2 505.4 L1359.4 505.7 L1361.6 506 L1363.9 506.2 L1366.2 506.3 L1368.5 506.5 L1370.8 506.6 L1373.2 506.8 L1375.6 506.9 L1378.1 506.9 L1380.5 507 L1383 507 L1385.5 507.1 L1388.1 507.1 L1390.7 507.1 L1393.3 507.1 L1395.9 507 L1398.5 507 L1401.2 507 L1404 506.9 L1406.7 506.9 L1409.5 506.8 L1412.3 506.7 L1415.1 506.7 L1418 506.6 L1420.9 506.5 L1423.8 506.4 L1426.7 506.3 L1429.7 506.2 L1432.7 506.1 L1435.7 506 L1438.8 505.9 L1441.9 505.8 L1445 505.7 L1448.2 505.6 L1451.3 505.5 L1454.5 505.4 L1457.8 505.3 L1461 505.2 L1464.3 505.1 L1467.7 505 L1471 504.8 L1474.4 504.7 L1477.8 504.6 L1481.3 504.4 L1484.7 504.3 L1488.2 504.2 L1491.8 504.1 L1495.3 504 L1498.9 503.9 L1502.5 503.9 L1506.2 503.8 L1509.9 503.7 L1513.6 503.7 L1517.3 503.6 L1521.1 503.5 L1524.9 503.5 L1528.7 503.4 L1532.6 503.3 L1536.5 503.3 L1540.4 503.2 L1544.4 503.1 L1548.3 503.1 L1552.4 503 L1556.4 502.9 L1560.5 502.9 L1564.6 502.8 L1568.7 502.8 L1572.9 502.7 L1577.1 502.6 L1581.3 502.6 L1585.6 502.5 L1589.8 502.5 L1594.2 502.4 L1598.5 502.4 L1602.9 502.3 L1607.3 502.3 L1611.8 502.2 L1616.2 502.2 L1620.7 502.2 L1625.3 502.1 L1629.8 502.1 L1634.4 502.1 L1639.1 502 L1643.7 502 L1648.4 501.9 L1653.1 501.9 L1657.9 501.9 L1662.7 501.8 L1667.5 501.8 L1672.3 501.8 L1677.2 501.8 L1682.1 501.7 L1687.1 501.7 L1692 501.7 L1697 501.6 L1702.1 501.6 L1707.1 501.6 L1712.2 501.6 L1717.4 501.5 L1722.5 501.5 L1727.7 501.5 L1733 501.5 L1738.2 501.4 L1743.5 501.4 L1745.4 325.8Z" fill="#ead8e8"/>
<path d="M1008.7 325.8 L1007.5 322 L1011.9 321.9 L1016.2 321.7 L1020.5 321.5 L1024.8 321.3 L1029 321.1 L1033.2 320.9 L1037.4 320.7 L1041.6 320.5 L1045.7 320.2 L1049.8 320 L1053.9 319.7 L1058 319.5 L1062 319.2 L1066 318.9 L1070 318.6 L1073.9 318.3 L1077.8 318 L1081.7 317.7 L1085.6 317.4 L1089.4 317 L1093.2 316.7 L1097 316.3 L1100.8 315.9 L1104.5 315.5 L1108.2 315.1 L1111.9 314.7 L1115.5 314.3 L1119.2 313.8 L1122.7 313.3 L1126.3 312.9 L1129.8 312.4 L1133.4 311.8 L1136.8 311.3 L1140.3 310.8 L1143.7 310.2 L1147.1 309.6 L1150.5 309 L1153.8 308.4 L1157.2 307.8 L1160.5 307.1 L1163.7 306.4 L1167 305.7 L1170.2 305 L1173.3 304.2 L1176.5 303.5 L1179.6 302.7 L1182.7 301.9 L1185.8 301 L1188.8 300.2 L1191.9 299.3 L1194.9 298.4 L1197.8 297.4 L1200.7 296.5 L1203.7 295.5 L1206.5 294.4 L1209.4 293.4 L1212.2 292.3 L1215 291.2 L1217.8 290 L1220.5 288.9 L1223.3 287.7 L1225.9 286.4 L1228.6 285.1 L1231.2 283.8 L1233.9 282.5 L1236.4 281.1 L1239 279.7 L1241.5 278.2 L1244 276.8 L1246.5 275.2 L1248.9 273.7 L1251.3 272.1 L1253.7 270.4 L1256.1 268.7 L1258.4 267 L1260.7 265.2 L1263 263.4 L1265.3 261.5 L1267.5 259.6 L1269.7 257.7 L1271.9 255.7 L1274 253.6 L1276.1 251.5 L1278.2 249.4 L1280.3 247.2 L1282.3 244.9 L1284.3 242.6 L1286.3 240.3 L1288.3 237.9 L1290.2 235.4 L1292.1 232.9 L1294 230.4 L1295.8 227.7 L1297.6 225.1 L1299.4 222.4 L1301.2 219.6 L1302.9 216.8 L1304.6 213.9 L1306.3 210.9 L1307.9 207.9 L1309.6 204.9 L1311.2 201.8 L1312.7 198.6 L1314.3 195.4 L1315.8 192.1 L1317.3 188.8 L1318.7 185.5 L1320.2 182 L1321.6 178.6 L1323 175 L1324.3 171.5 L1325.6 167.9 L1326.9 164.2 L1328.2 160.5 L1329.4 156.8 L1330.7 153 L1331.8 149.2 L1333 145.3 L1334.1 141.5 L1335.2 137.6 L1336.3 133.7 L1337.4 129.7 L1338.4 125.8 L1339.4 121.8 L1340.4 117.9 L1341.3 113.9 L1342.2 110 L1343.1 106 L1344 102.1 L1344.8 98.2 L1345.6 94.3 L1346.4 90.5 L1347.1 86.7 L1347.9 82.9 L1348.6 79.2 L1349.2 75.6 L1349.9 72.1 L1350.5 68.6 L1351.1 65.2 L1351.6 61.9 L1352.2 58.7 L1352.7 55.6 L1353.2 52.6 L1353.6 49.7 L1354 47 L1354.4 44.4 L1354.8 42 L1355.1 39.7 L1355.4 37.5 L1355.7 35.6 L1356 33.8 L1356.2 32.1 L1356.4 30.7 L1356.6 29.4 L1356.8 28.3 L1356.9 27.5 L1357 26.8 L1357 26.3 L1357.1 26.3 L1357.1 26.3 L1470.7 26.3 L1470.7 26.3 L1470.7 26.3 L1470.7 26.3 L1470.7 26.5 L1470.7 26.9 L1470.7 27.5 L1470.8 28.3 L1470.8 29.1 L1470.9 30.2 L1471 31.3 L1471 32.7 L1471.1 34.1 L1471.2 35.8 L1471.3 37.6 L1471.5 39.7 L1471.6 42 L1471.7 44.7 L1471.9 47.7 L1472 51.3 L1472.2 55.6 L1472.4 60.6 L1472.6 66.4 L1472.8 72.9 L1473 80 L1473.2 87.5 L1473.5 95.4 L1473.7 103.2 L1474 111.2 L1474.3 119.7 L1474.6 128.4 L1474.9 137.3 L1475.2 146.3 L1475.5 155 L1475.8 163.6 L1476.2 172.1 L1476.6 180.6 L1476.9 189.1 L1477.3 197.7 L1477.7 206.5 L1478.1 215.4 L1478.6 224.5 L1479 233.6 L1479.5 242.6 L1479.9 251.4 L1480.4 260 L1480.9 268.9 L1481.4 277.9 L1481.9 287 L1482.5 296.1 L1483 305 L1483.6 313.5 L1484.2 321.5 L1484.8 328.8 L1485.4 335.3 L1486 341.1 L1486.6 346.4 L1487.2 351.3 L1487.9 356 L1488.6 360.6 L1489.3 365.4 L1490 370.1 L1490.7 374.6 L1491.4 379.1 L1492.2 383.4 L1492.9 387.7 L1493.7 391.9 L1494.5 396.2 L1495.3 400.5 L1496.1 404.8 L1496.9 408.9 L1497.8 413 L1498.6 417 L1499.5 421 L1500.4 424.9 L1501.3 428.7 L1502.2 432.4 L1503.1 436 L1504.1 439.4 L1505 442.8 L1506 446.3 L1507 449.7 L1508 452.9 L1509 455.9 L1510.1 458.6 L1511.1 461.2 L1512.2 463.8 L1513.3 466.3 L1514.4 468.7 L1515.5 471 L1516.6 473.2 L1517.8 475.3 L1518.9 477.2 L1520.1 479 L1521.3 480.7 L1522.5 482.3 L1523.7 483.9 L1524.9 485.3 L1526.2 486.6 L1527.5 487.9 L1528.7 489.1 L1530 490.2 L1531.4 491.3 L1532.7 492.3 L1534 493.3 L1535.4 494.2 L1536.8 495.1 L1538.2 495.9 L1539.6 496.7 L1541 497.5 L1542.4 498.3 L1543.9 499 L1545.4 499.6 L1546.9 500.2 L1548.4 500.8 L1549.9 501.3 L1551.4 501.8 L1553 502.2 L1554.5 502.7 L1556.1 503.1 L1557.7 503.5 L1559.3 503.9 L1561 504.3 L1562.6 504.6 L1564.3 505 L1566 505.3 L1567.7 505.5 L1569.4 505.8 L1571.1 506 L1572.9 506.1 L1574.6 506.3 L1576.4 506.4 L1578.2 506.5 L1580 506.6 L1581.9 506.7 L1583.7 506.8 L1585.6 506.9 L1587.5 506.9 L1589.4 507 L1591.3 507 L1593.2 507 L1595.1 507.1 L1597.1 507.1 L1599.1 507.1 L1601.1 507.1 L1603.1 507.1 L1605.1 507 L1607.2 507 L1609.3 507 L1611.3 507 L1613.4 506.9 L1615.6 506.9 L1617.7 506.8 L1619.8 506.8 L1622 506.7 L1624.2 506.7 L1626.4 506.6 L1628.6 506.5 L1630.8 506.5 L1633.1 506.4 L1635.4 506.3 L1637.7 506.3 L1640 506.2 L1642.3 506.1 L1644.6 506 L1647 506 L1649.4 505.9 L1651.7 505.8 L1654.2 505.7 L1656.6 505.7 L1659 505.6 L1661.5 505.5 L1664 505.4 L1666.5 505.3 L1669 505.3 L1671.5 505.2 L1674 505.1 L1676.6 505 L1679.2 504.9 L1681.8 504.8 L1684.4 504.7 L1687.1 504.6 L1689.7 504.5 L1692.4 504.4 L1695.1 504.3 L1697.8 504.2 L1700.5 504.1 L1703.2 504.1 L1706 504 L1708.8 503.9 L1711.6 503.9 L1714.4 503.8 L1717.2 503.8 L1720.1 503.7 L1722.9 503.7 L1725.8 503.6 L1728.7 503.6 L1731.6 503.5 L1734.6 503.4 L1737.5 503.4 L1740.5 503.3 L1743.5 503.3 L1745.4 325.8Z" fill="#eae2db"/>
<path d="M1008.7 325.8 L1007.5 325.1 L1013.8 325 L1020.1 325 L1026.4 324.9 L1032.6 324.8 L1038.8 324.8 L1045 324.7 L1051.1 324.6 L1057.1 324.6 L1063.2 324.5 L1069.1 324.4 L1075.1 324.3 L1081 324.2 L1086.9 324.1 L1092.7 324 L1098.5 323.9 L1104.2 323.8 L1109.9 323.7 L1115.6 323.6 L1121.2 323.4 L1126.8 323.3 L1132.4 323.2 L1137.9 323 L1143.3 322.8 L1148.8 322.7 L1154.2 322.5 L1159.5 322.3 L1164.8 322.1 L1170.1 321.9 L1175.3 321.7 L1180.5 321.5 L1185.7 321.2 L1190.8 321 L1195.8 320.7 L1200.9 320.5 L1205.9 320.2 L1210.8 319.9 L1215.7 319.6 L1220.6 319.3 L1225.4 318.9 L1230.2 318.6 L1235 318.2 L1239.7 317.8 L1244.4 317.4 L1249 317 L1253.6 316.6 L1258.1 316.1 L1262.7 315.7 L1267.1 315.2 L1271.6 314.7 L1276 314.1 L1280.3 313.6 L1284.6 313 L1288.9 312.4 L1293.1 311.8 L1297.3 311.2 L1301.5 310.5 L1305.6 309.8 L1309.7 309.1 L1313.7 308.3 L1317.7 307.5 L1321.7 306.7 L1325.6 305.9 L1329.5 305 L1333.3 304.1 L1337.1 303.2 L1340.9 302.2 L1344.6 301.2 L1348.3 300.2 L1351.9 299.1 L1355.5 298 L1359.1 296.8 L1362.6 295.7 L1366.1 294.4 L1369.5 293.1 L1372.9 291.8 L1376.3 290.5 L1379.6 289.1 L1382.9 287.6 L1386.1 286.1 L1389.3 284.5 L1392.5 282.9 L1395.6 281.3 L1398.7 279.6 L1401.7 277.8 L1404.7 276 L1407.7 274.1 L1410.6 272.2 L1413.5 270.2 L1416.3 268.2 L1419.1 266 L1421.9 263.9 L1424.6 261.6 L1427.3 259.3 L1430 257 L1432.6 254.5 L1435.1 252 L1437.7 249.4 L1440.1 246.8 L1442.6 244 L1445 241.2 L1447.4 238.4 L1449.7 235.4 L1452 232.4 L1454.2 229.3 L1456.4 226.1 L1458.6 222.8 L1460.7 219.5 L1462.8 216 L1464.9 212.5 L1466.9 208.9 L1468.8 205.3 L1470.8 201.5 L1472.7 197.7 L1474.5 193.8 L1476.3 189.8 L1478.1 185.8 L1479.8 181.6 L1481.5 177.4 L1483.2 173.2 L1484.8 168.8 L1486.3 164.4 L1487.9 160 L1489.4 155.5 L1490.8 150.9 L1492.2 146.3 L1493.6 141.6 L1494.9 136.9 L1496.2 132.2 L1497.5 127.4 L1498.7 122.6 L1499.9 117.9 L1501 113.1 L1502.1 108.3 L1503.1 103.6 L1504.2 98.9 L1505.1 94.2 L1506.1 89.6 L1507 85 L1507.8 80.5 L1508.6 76.1 L1509.4 71.8 L1510.1 67.6 L1510.8 63.6 L1511.5 59.6 L1512.1 55.9 L1512.7 52.3 L1513.2 48.9 L1513.7 45.6 L1514.2 42.6 L1514.6 39.8 L1515 37.3 L1515.3 34.9 L1515.6 32.8 L1515.9 31 L1516.1 29.5 L1516.3 28.2 L1516.4 27.2 L1516.5 26.4 L1516.6 26.3 L1516.6 26.3 L1632 26.3 L1632 26.3 L1632 26.3 L1632 26.3 L1632 26.3 L1632 26.4 L1632 26.6 L1632 26.9 L1632.1 27.3 L1632.1 27.7 L1632.1 28.2 L1632.1 28.8 L1632.2 29.5 L1632.2 30.2 L1632.3 30.9 L1632.3 31.7 L1632.4 32.6 L1632.4 33.6 L1632.5 34.7 L1632.6 35.8 L1632.6 37 L1632.7 38.3 L1632.8 39.6 L1632.9 41.2 L1633 42.8 L1633 44.6 L1633.1 46.6 L1633.2 48.8 L1633.4 51.2 L1633.5 54 L1633.6 57 L1633.7 60.5 L1633.8 64.2 L1634 68.3 L1634.1 72.7 L1634.3 77.4 L1634.4 82.2 L1634.6 87.3 L1634.7 92.5 L1634.9 97.7 L1635.1 102.9 L1635.2 108.2 L1635.4 113.7 L1635.6 119.4 L1635.8 125.2 L1636 131.1 L1636.2 137 L1636.4 142.9 L1636.6 148.8 L1636.8 154.6 L1637 160.3 L1637.3 166 L1637.5 171.7 L1637.8 177.4 L1638 183.1 L1638.3 188.8 L1638.5 194.5 L1638.8 200.2 L1639 206.1 L1639.3 212 L1639.6 218 L1639.9 224 L1640.2 230.1 L1640.5 236.1 L1640.8 242.1 L1641.1 248.1 L1641.4 253.9 L1641.7 259.6 L1642.1 265.4 L1642.4 271.3 L1642.7 277.4 L1643.1 283.4 L1643.4 289.5 L1643.8 295.5 L1644.1 301.5 L1644.5 307.3 L1644.9 313 L1645.3 318.4 L1645.7 323.5 L1646 328.3 L1646.4 332.8 L1646.8 336.9 L1647.3 340.7 L1647.7 344.4 L1648.1 347.8 L1648.5 351 L1649 354.1 L1649.4 357.2 L1649.9 360.3 L1650.3 363.4 L1650.8 366.6 L1651.2 369.7 L1651.7 372.8 L1652.2 375.8 L1652.7 378.7 L1653.2 381.6 L1653.7 384.5 L1654.2 387.3 L1654.7 390.2 L1655.2 393 L1655.7 395.9 L1656.3 398.7 L1656.8 401.6 L1657.3 404.4 L1657.9 407.2 L1658.5 410 L1659 412.7 L1659.6 415.4 L1660.2 418 L1660.7 420.6 L1661.3 423.3 L1661.9 425.9 L1662.5 428.4 L1663.1 430.9 L1663.7 433.3 L1664.4 435.6 L1665 437.9 L1665.6 440.2 L1666.3 442.5 L1666.9 444.8 L1667.6 447.1 L1668.2 449.3 L1668.9 451.5 L1669.6 453.6 L1670.3 455.6 L1671 457.5 L1671.6 459.2 L1672.3 460.9 L1673.1 462.7 L1673.8 464.3 L1674.5 466 L1675.2 467.6 L1676 469.2 L1676.7 470.7 L1677.4 472.2 L1678.2 473.7 L1679 475 L1679.7 476.3 L1680.5 477.6 L1681.3 478.8 L1682.1 480 L1682.9 481.1 L1683.7 482.2 L1684.5 483.2 L1685.3 484.2 L1686.1 485.1 L1687 486 L1687.8 486.9 L1688.6 487.7 L1689.5 488.5 L1690.3 489.3 L1691.2 490.1 L1692.1 490.8 L1693 491.5 L1693.8 492.2 L1694.7 492.9 L1695.6 493.5 L1696.5 494.1 L1697.5 494.7 L1698.4 495.3 L1699.3 495.8 L1700.2 496.4 L1701.2 496.9 L1702.1 497.4 L1703.1 497.9 L1704.1 498.4 L1705 498.9 L1706 499.3 L1707 499.8 L1708 500.2 L1709 500.5 L1710 500.9 L1711 501.2 L1712 501.6 L1713 501.9 L1714.1 502.2 L1715.1 502.5 L1716.2 502.7 L1717.2 503 L1718.3 503.3 L1719.4 503.6 L1720.4 503.8 L1721.5 504.1 L1722.6 504.3 L1723.7 504.6 L1724.8 504.8 L1725.9 505 L1727 505.2 L1728.2 505.4 L1729.3 505.6 L1730.5 505.7 L1731.6 505.9 L1732.8 506 L1733.9 506.1 L1735.1 506.2 L1736.3 506.3 L1737.5 506.4 L1738.7 506.5 L1739.9 506.5 L1741.1 506.6 L1742.3 506.7 L1743.5 506.7 L1745.4 325.8Z" fill="#dcebdb"/>
<path d="M1008.7 325.8 L1007.5 325.6 L1015.7 325.6 L1023.8 325.6 L1031.9 325.6 L1039.9 325.6 L1047.8 325.5 L1055.8 325.5 L1063.6 325.5 L1071.4 325.5 L1079.2 325.4 L1086.9 325.4 L1094.6 325.4 L1102.2 325.4 L1109.7 325.3 L1117.2 325.3 L1124.7 325.2 L1132.1 325.2 L1139.4 325.2 L1146.7 325.1 L1154 325.1 L1161.2 325 L1168.3 324.9 L1175.4 324.9 L1182.5 324.8 L1189.5 324.7 L1196.4 324.7 L1203.3 324.6 L1210.1 324.5 L1216.9 324.4 L1223.7 324.3 L1230.3 324.2 L1237 324.1 L1243.6 324 L1250.1 323.8 L1256.6 323.7 L1263 323.6 L1269.4 323.4 L1275.7 323.2 L1282 323.1 L1288.2 322.9 L1294.4 322.7 L1300.5 322.5 L1306.6 322.3 L1312.6 322.1 L1318.5 321.8 L1324.5 321.6 L1330.3 321.3 L1336.1 321.1 L1341.9 320.8 L1347.6 320.5 L1353.3 320.1 L1358.9 319.8 L1364.4 319.5 L1370 319.1 L1375.4 318.7 L1380.8 318.3 L1386.2 317.9 L1391.5 317.4 L1396.7 316.9 L1401.9 316.4 L1407.1 315.9 L1412.2 315.4 L1417.2 314.8 L1422.2 314.2 L1427.1 313.6 L1432 312.9 L1436.9 312.2 L1441.7 311.5 L1446.4 310.8 L1451.1 310 L1455.7 309.2 L1460.3 308.3 L1464.9 307.4 L1469.3 306.5 L1473.8 305.6 L1478.1 304.5 L1482.5 303.5 L1486.8 302.4 L1491 301.3 L1495.2 300.1 L1499.3 298.9 L1503.3 297.6 L1507.4 296.3 L1511.3 294.9 L1515.3 293.5 L1519.1 292 L1522.9 290.4 L1526.7 288.8 L1530.4 287.2 L1534.1 285.4 L1537.7 283.7 L1541.3 281.8 L1544.8 279.9 L1548.2 277.9 L1551.6 275.8 L1555 273.7 L1558.3 271.5 L1561.5 269.2 L1564.7 266.8 L1567.9 264.4 L1571 261.8 L1574 259.2 L1577 256.5 L1580 253.7 L1582.9 250.9 L1585.7 247.9 L1588.5 244.8 L1591.3 241.7 L1593.9 238.4 L1596.6 235 L1599.2 231.6 L1601.7 228 L1604.2 224.4 L1606.6 220.6 L1609 216.7 L1611.3 212.8 L1613.6 208.7 L1615.8 204.5 L1618 200.3 L1620.1 195.9 L1622.2 191.4 L1624.2 186.8 L1626.2 182.2 L1628.1 177.4 L1630 172.6 L1631.8 167.6 L1633.6 162.6 L1635.3 157.5 L1637 152.3 L1638.6 147.1 L1640.2 141.8 L1641.7 136.5 L1643.1 131.1 L1644.5 125.7 L1645.9 120.3 L1647.2 114.9 L1648.4 109.5 L1649.7 104.1 L1650.8 98.7 L1651.9 93.4 L1653 88.2 L1654 83 L1654.9 78 L1655.8 73.1 L1656.6 68.3 L1657.4 63.7 L1658.2 59.2 L1658.9 55 L1659.5 51 L1660.1 47.2 L1660.6 43.7 L1661.1 40.4 L1661.6 37.4 L1661.9 34.8 L1662.3 32.5 L1662.6 30.5 L1662.8 28.8 L1663 27.5 L1663.1 26.6 L1663.2 26.3 L1663.2 26.3 L1743.5 26.3 L1745.4 325.8Z" fill="#dce4ec"/>
<path d="M1008.7 325.8 L1007.5 325.8 L1016.7 325.8 L1025.8 325.7 L1034.8 325.7 L1043.8 325.7 L1052.8 325.7 L1061.7 325.7 L1070.5 325.7 L1079.3 325.7 L1088 325.7 L1096.6 325.7 L1105.2 325.7 L1113.8 325.7 L1122.2 325.7 L1130.7 325.7 L1139 325.6 L1147.3 325.6 L1155.6 325.6 L1163.8 325.6 L1171.9 325.6 L1180 325.6 L1188 325.5 L1196 325.5 L1203.9 325.5 L1211.7 325.5 L1219.5 325.4 L1227.3 325.4 L1234.9 325.4 L1242.6 325.3 L1250.1 325.3 L1257.6 325.3 L1265.1 325.2 L1272.5 325.2 L1279.8 325.1 L1287.1 325.1 L1294.3 325 L1301.4 325 L1308.5 324.9 L1315.6 324.9 L1322.6 324.8 L1329.5 324.7 L1336.4 324.6 L1343.2 324.5 L1349.9 324.5 L1356.6 324.4 L1363.3 324.3 L1369.9 324.2 L1376.4 324 L1382.9 323.9 L1389.3 323.8 L1395.6 323.7 L1401.9 323.5 L1408.2 323.4 L1414.3 323.2 L1420.5 323.1 L1426.5 322.9 L1432.5 322.7 L1438.5 322.5 L1444.4 322.3 L1450.2 322.1 L1456 321.9 L1461.7 321.6 L1467.4 321.4 L1473 321.1 L1478.5 320.8 L1484 320.5 L1489.5 320.2 L1494.8 319.9 L1500.2 319.6 L1505.4 319.2 L1510.6 318.9 L1515.8 318.5 L1520.9 318.1 L1525.9 317.7 L1530.9 317.3 L1535.8 316.8 L1540.6 316.3 L1545.4 315.8 L1550.2 315.3 L1554.9 314.8 L1559.5 314.2 L1564.1 313.7 L1568.6 313.1 L1573 312.5 L1577.4 311.8 L1581.8 311.1 L1586.1 310.4 L1590.3 309.7 L1594.5 309 L1598.6 308.2 L1602.6 307.4 L1606.6 306.6 L1610.6 305.8 L1614.4 304.9 L1618.3 304 L1622 303 L1625.7 302.1 L1629.4 301.1 L1633 300.1 L1636.5 299 L1640 297.9 L1643.4 296.8 L1646.8 295.7 L1650.1 294.5 L1653.3 293.3 L1656.5 292.1 L1659.7 290.8 L1662.7 289.6 L1665.8 288.2 L1668.7 286.9 L1671.6 285.5 L1674.5 284.1 L1677.3 282.7 L1680 281.3 L1682.7 279.8 L1685.3 278.3 L1687.8 276.7 L1690.3 275.2 L1692.8 273.6 L1695.2 272 L1697.5 270.4 L1699.8 268.8 L1702 267.2 L1704.1 265.5 L1706.2 263.9 L1708.3 262.2 L1710.3 260.5 L1712.2 258.8 L1714.1 257.2 L1715.9 255.5 L1717.6 253.8 L1719.3 252.1 L1721 250.5 L1722.5 248.8 L1724.1 247.2 L1725.5 245.6 L1726.9 244 L1728.3 242.4 L1729.6 240.9 L1730.8 239.4 L1732 238 L1733.1 236.5 L1734.2 235.2 L1735.2 233.9 L1736.1 232.6 L1737 231.4 L1737.9 230.2 L1738.6 229.1 L1739.4 228.1 L1740 227.1 L1740.6 226.3 L1741.2 225.5 L1741.7 224.7 L1742.1 224.1 L1742.5 223.5 L1742.8 223 L1743 222.6 L1743.2 222.3 L1743.4 222.1 L1743.5 222 L1743.5 221.9 L1745.4 325.8Z" fill="#e9dae8"/>
<path d="M1008.7 325.8 L1007.5 325.8 L1016.7 325.8 L1025.8 325.8 L1034.8 325.8 L1043.8 325.8 L1052.8 325.8 L1061.7 325.8 L1070.5 325.8 L1079.3 325.8 L1088 325.8 L1096.6 325.8 L1105.2 325.8 L1113.8 325.8 L1122.2 325.8 L1130.7 325.8 L1139 325.8 L1147.3 325.8 L1155.6 325.8 L1163.8 325.7 L1171.9 325.7 L1180 325.7 L1188 325.7 L1196 325.7 L1203.9 325.7 L1211.7 325.7 L1219.5 325.7 L1227.3 325.7 L1234.9 325.7 L1242.6 325.7 L1250.1 325.7 L1257.6 325.7 L1265.1 325.7 L1272.5 325.6 L1279.8 325.6 L1287.1 325.6 L1294.3 325.6 L1301.4 325.6 L1308.5 325.6 L1315.6 325.6 L1322.6 325.5 L1329.5 325.5 L1336.4 325.5 L1343.2 325.5 L1349.9 325.5 L1356.6 325.4 L1363.3 325.4 L1369.9 325.4 L1376.4 325.4 L1382.9 325.3 L1389.3 325.3 L1395.6 325.3 L1401.9 325.2 L1408.2 325.2 L1414.3 325.2 L1420.5 325.1 L1426.5 325.1 L1432.5 325 L1438.5 325 L1444.4 324.9 L1450.2 324.9 L1456 324.8 L1461.7 324.8 L1467.4 324.7 L1473 324.7 L1478.5 324.6 L1484 324.5 L1489.5 324.5 L1494.8 324.4 L1500.2 324.3 L1505.4 324.2 L1510.6 324.1 L1515.8 324 L1520.9 323.9 L1525.9 323.9 L1530.9 323.8 L1535.8 323.6 L1540.6 323.5 L1545.4 323.4 L1550.2 323.3 L1554.9 323.2 L1559.5 323.1 L1564.1 322.9 L1568.6 322.8 L1573 322.7 L1577.4 322.5 L1581.8 322.4 L1586.1 322.2 L1590.3 322 L1594.5 321.9 L1598.6 321.7 L1602.6 321.5 L1606.6 321.4 L1610.6 321.2 L1614.4 321 L1618.3 320.8 L1622 320.6 L1625.7 320.4 L1629.4 320.2 L1633 320 L1636.5 319.8 L1640 319.5 L1643.4 319.3 L1646.8 319.1 L1650.1 318.8 L1653.3 318.6 L1656.5 318.4 L1659.7 318.1 L1662.7 317.9 L1665.8 317.6 L1668.7 317.4 L1671.6 317.1 L1674.5 316.8 L1677.3 316.6 L1680 316.3 L1682.7 316 L1685.3 315.8 L1687.8 315.5 L1690.3 315.2 L1692.8 314.9 L1695.2 314.7 L1697.5 314.4 L1699.8 314.1 L1702 313.8 L1704.1 313.5 L1706.2 313.3 L1708.3 313 L1710.3 312.7 L1712.2 312.4 L1714.1 312.2 L1715.9 311.9 L1717.6 311.6 L1719.3 311.4 L1721 311.1 L1722.5 310.9 L1724.1 310.6 L1725.5 310.4 L1726.9 310.2 L1728.3 309.9 L1729.6 309.7 L1730.8 309.5 L1732 309.3 L1733.1 309.1 L1734.2 308.9 L1735.2 308.7 L1736.1 308.5 L1737 308.3 L1737.9 308.2 L1738.6 308 L1739.4 307.9 L1740 307.8 L1740.6 307.6 L1741.2 307.5 L1741.7 307.4 L1742.1 307.4 L1742.5 307.3 L1742.8 307.2 L1743 307.2 L1743.2 307.1 L1743.4 307.1 L1743.5 307.1 L1743.5 307.1 L1745.4 325.8Z" fill="#eee2de"/>
<path d="M1008.7 501.4 L1743.5 501.4" fill="none" stroke="#f80d12" stroke-width="3.0" stroke-dasharray="24.5 19.8" />
<path d="M1008.7 499.3C1023.9 499.5 1059.8 500 1100 500.3C1140.2 500.6 1142.8 500.9 1250 501C1357.2 501.1 1661.2 501.1 1743.5 501.1" fill="none" stroke="#000" stroke-width="2.6"  />
<path d="M1008.7 495.4C1012.2 495.7 1019.6 496.5 1030 497.1C1040.4 497.8 1057 498.8 1071 499.3C1085 499.8 1092.5 500.1 1114 500.3C1135.5 500.6 1095.1 500.7 1200 500.8C1304.9 500.9 1652.9 500.9 1743.5 500.9" fill="none" stroke="#14ee1e" stroke-width="3.0" stroke-dasharray="24.5 19.8" />
<path d="M1008.7 489.9C1013.7 490.5 1028.1 492.5 1038.6 493.6C1049 494.7 1056.4 495.6 1071.4 496.4C1086.4 497.2 1109.5 498.1 1128.6 498.6C1147.6 499.1 1165.5 499.3 1185.7 499.6C1205.9 499.9 1214.3 500.1 1250 500.3C1285.7 500.5 1317.8 500.5 1400 500.6C1482.2 500.7 1686.2 500.7 1743.5 500.7" fill="none" stroke="#f97a78" stroke-width="3.0"  />
<path d="M1008.7 427.5C1010.1 431 1014 441.5 1017.1 448.6C1020.2 455.7 1023.5 462.4 1027.1 470C1030.7 477.6 1034.8 487.2 1038.6 494.3C1042.4 501.4 1046.4 507.9 1050 512.9C1053.6 517.9 1056.9 521.2 1060 524.3C1063.1 527.4 1065.3 529.4 1068.6 531.4C1071.9 533.4 1076.7 535.4 1080 536.4C1083.3 537.4 1085.3 537.3 1088.6 537.1C1091.9 536.9 1096.2 536.2 1100 535.4C1103.8 534.6 1106.2 534 1111.4 532.1C1116.6 530.2 1124.2 526.8 1131.4 524.3C1138.6 521.8 1147.2 519.2 1154.3 517.1C1161.4 515 1167.2 513.3 1174.3 511.9C1181.4 510.5 1189.7 509.5 1197.1 508.6C1204.5 507.7 1211.2 506.9 1218.6 506.3C1226 505.7 1234 505.3 1241.4 504.8C1248.8 504.3 1251.6 504 1262.9 503.5C1274.2 503 1286.6 502.4 1309.4 502C1332.2 501.6 1359.9 501.4 1400 501.2C1440.1 501 1492.8 501 1550 500.9C1607.2 500.8 1711.2 500.8 1743.5 500.8" fill="none" stroke="#0d0df0" stroke-width="3.2" stroke-dasharray="24.5 19.8" />
<path d="M1007.5 290.4 L1009.2 289.7 L1011 289 L1012.7 288.2 L1014.4 287.4 L1016.1 286.7 L1017.8 285.9 L1019.5 285 L1021.2 284.2 L1022.8 283.4 L1024.5 282.5 L1026.1 281.6 L1027.8 280.8 L1029.4 279.9 L1031 279 L1032.6 278 L1034.2 277.1 L1035.7 276.1 L1037.3 275.2 L1038.8 274.2 L1040.4 273.2 L1041.9 272.1 L1043.4 271.1 L1044.9 270 L1046.4 269 L1047.9 267.9 L1049.4 266.8 L1050.9 265.7 L1052.3 264.5 L1053.7 263.4 L1055.2 262.2 L1056.6 261 L1058 259.8 L1059.4 258.5 L1060.8 257.3 L1062.2 256 L1063.5 254.7 L1064.9 253.4 L1066.2 252.1 L1067.6 250.8 L1068.9 249.4 L1070.2 248 L1071.5 246.6 L1072.8 245.2 L1074 243.7 L1075.3 242.3 L1076.6 240.8 L1077.8 239.3 L1079 237.7 L1080.3 236.2 L1081.5 234.6 L1082.7 233 L1083.9 231.4 L1085 229.8 L1086.2 228.1 L1087.4 226.5 L1088.5 224.8 L1089.6 223 L1090.8 221.3 L1091.9 219.5 L1093 217.7 L1094.1 215.9 L1095.2 214.1 L1096.2 212.2 L1097.3 210.4 L1098.3 208.5 L1099.4 206.6 L1100.4 204.6 L1101.4 202.6 L1102.4 200.7 L1103.4 198.7 L1104.4 196.6 L1105.3 194.6 L1106.3 192.5 L1107.3 190.4 L1108.2 188.3 L1109.1 186.2 L1110 184 L1110.9 181.8 L1111.8 179.6 L1112.7 177.4 L1113.6 175.2 L1114.4 172.9 L1115.3 170.7 L1116.1 168.4 L1117 166.1 L1117.8 163.7 L1118.6 161.4 L1119.4 159 L1120.2 156.7 L1120.9 154.3 L1121.7 151.9 L1122.4 149.5 L1123.2 147 L1123.9 144.6 L1124.6 142.2 L1125.3 139.7 L1126 137.2 L1126.7 134.7 L1127.4 132.3 L1128.1 129.8 L1128.7 127.3 L1129.3 124.8 L1130 122.3 L1130.6 119.8 L1131.2 117.2 L1131.8 114.7 L1132.4 112.2 L1133 109.7 L1133.5 107.2 L1134.1 104.7 L1134.6 102.3 L1135.2 99.8 L1135.7 97.3 L1136.2 94.9 L1136.7 92.4 L1137.2 90 L1137.6 87.6 L1138.1 85.2 L1138.6 82.8 L1139 80.5 L1139.4 78.2 L1139.9 75.9 L1140.3 73.6 L1140.7 71.4 L1141.1 69.2 L1141.4 67 L1141.8 64.9 L1142.2 62.8 L1142.5 60.7 L1142.8 58.7 L1143.2 56.7 L1143.5 54.8 L1143.8 52.9 L1144.1 51.1 L1144.4 49.3 L1144.6 47.5 L1144.9 45.9 L1145.1 44.3 L1145.4 42.7 L1145.6 41.2 L1145.8 39.8 L1146 38.4 L1146.2 37.1 L1146.4 35.8 L1146.5 34.6 L1146.7 33.5 L1146.9 32.5 L1147 31.5 L1147.1 30.6 L1147.2 29.8 L1147.3 29.1 L1147.4 28.4 L1147.5 27.8 L1147.6 27.3 L1147.6 26.9 L1147.7 26.5 L1147.7 26.3 L1147.8 26.3 L1147.8 26.3 L1147.8 26.3" fill="none" stroke="#f80d12" stroke-width="3.0" stroke-dasharray="24.5 19.8" />
<path d="M1147.8 26.3 L1261.2 26.3" fill="none" stroke="#a9682f" stroke-width="3.2" stroke-dasharray="24.5 19.8" />
<path d="M1261.2 26.3 L1261.2 26.3 L1261.2 26.4 L1261.2 26.9 L1261.3 27.6 L1261.3 28.7 L1261.4 29.9 L1261.5 31.4 L1261.6 33.2 L1261.7 35.2 L1261.9 37.5 L1262 40.2 L1262.2 43.4 L1262.4 47.2 L1262.6 51.9 L1262.8 57.7 L1263.1 64.8 L1263.3 73.1 L1263.6 82.4 L1263.9 92.3 L1264.2 102.5 L1264.6 112.9 L1265 124 L1265.3 135.5 L1265.7 147.1 L1266.2 158.3 L1266.6 169.4 L1267.1 180.4 L1267.6 191.5 L1268.1 202.7 L1268.6 214.2 L1269.2 226 L1269.8 237.7 L1270.4 249.3 L1271 260.5 L1271.6 272 L1272.3 283.7 L1273 295.5 L1273.7 307 L1274.4 317.8 L1275.2 327.5 L1276 336 L1276.8 343.4 L1277.6 350 L1278.4 356 L1279.3 362 L1280.2 368.2 L1281.1 374.1 L1282.1 379.9 L1283.1 385.5 L1284 391 L1285.1 396.5 L1286.1 402.1 L1287.2 407.6 L1288.3 412.9 L1289.4 418.1 L1290.5 423.2 L1291.7 428.2 L1292.9 432.9 L1294.1 437.5 L1295.3 441.9 L1296.6 446.4 L1297.9 450.7 L1299.2 454.8 L1300.5 458.4 L1301.9 461.8 L1303.3 465 L1304.7 468.2 L1306.1 471.2 L1307.6 474 L1309.1 476.6 L1310.6 479 L1312.2 481.2 L1313.7 483.2 L1315.3 485.1 L1316.9 486.8 L1318.6 488.5 L1320.3 490 L1322 491.4 L1323.7 492.7 L1325.4 493.9 L1327.2 495.1 L1329 496.1 L1330.9 497.2 L1332.7 498.1 L1334.6 499.1 L1336.5 499.9 L1338.5 500.6 L1340.4 501.3 L1342.4 501.9 L1344.4 502.5 L1346.5 503 L1348.6 503.6 L1350.7 504.1 L1352.8 504.6 L1355 505 L1357.2 505.4 L1359.4 505.7 L1361.6 506 L1363.9 506.2 L1366.2 506.3 L1368.5 506.5 L1370.8 506.6 L1373.2 506.8 L1375.6 506.9 L1378.1 506.9 L1380.5 507 L1383 507 L1385.5 507.1 L1388.1 507.1 L1390.7 507.1 L1393.3 507.1 L1395.9 507 L1398.5 507 L1401.2 507 L1404 506.9 L1406.7 506.9 L1409.5 506.8 L1412.3 506.7 L1415.1 506.7 L1418 506.6 L1420.9 506.5 L1423.8 506.4 L1426.7 506.3 L1429.7 506.2 L1432.7 506.1 L1435.7 506 L1438.8 505.9 L1441.9 505.8 L1445 505.7 L1448.2 505.6 L1451.3 505.5 L1454.5 505.4 L1457.8 505.3 L1461 505.2 L1464.3 505.1 L1467.7 505 L1471 504.8 L1474.4 504.7 L1477.8 504.6 L1481.3 504.4 L1484.7 504.3 L1488.2 504.2 L1491.8 504.1 L1495.3 504 L1498.9 503.9 L1502.5 503.9 L1506.2 503.8 L1509.9 503.7 L1513.6 503.7 L1517.3 503.6 L1521.1 503.5 L1524.9 503.5 L1528.7 503.4 L1532.6 503.3 L1536.5 503.3 L1540.4 503.2 L1544.4 503.1 L1548.3 503.1 L1552.4 503 L1556.4 502.9 L1560.5 502.9 L1564.6 502.8 L1568.7 502.8 L1572.9 502.7 L1577.1 502.6 L1581.3 502.6 L1585.6 502.5 L1589.8 502.5 L1594.2 502.4 L1598.5 502.4 L1602.9 502.3 L1607.3 502.3 L1611.8 502.2 L1616.2 502.2 L1620.7 502.2 L1625.3 502.1 L1629.8 502.1 L1634.4 502.1 L1639.1 502 L1643.7 502 L1648.4 501.9 L1653.1 501.9 L1657.9 501.9 L1662.7 501.8 L1667.5 501.8 L1672.3 501.8 L1677.2 501.8 L1682.1 501.7 L1687.1 501.7 L1692 501.7 L1697 501.6 L1702.1 501.6 L1707.1 501.6 L1712.2 501.6 L1717.4 501.5 L1722.5 501.5 L1727.7 501.5 L1733 501.5 L1738.2 501.4 L1743.5 501.4" fill="none" stroke="#f80d12" stroke-width="3.0" stroke-dasharray="24.5 19.8" />
<path d="M1007.5 322 L1011.9 321.9 L1016.2 321.7 L1020.5 321.5 L1024.8 321.3 L1029 321.1 L1033.2 320.9 L1037.4 320.7 L1041.6 320.5 L1045.7 320.2 L1049.8 320 L1053.9 319.7 L1058 319.5 L1062 319.2 L1066 318.9 L1070 318.6 L1073.9 318.3 L1077.8 318 L1081.7 317.7 L1085.6 317.4 L1089.4 317 L1093.2 316.7 L1097 316.3 L1100.8 315.9 L1104.5 315.5 L1108.2 315.1 L1111.9 314.7 L1115.5 314.3 L1119.2 313.8 L1122.7 313.3 L1126.3 312.9 L1129.8 312.4 L1133.4 311.8 L1136.8 311.3 L1140.3 310.8 L1143.7 310.2 L1147.1 309.6 L1150.5 309 L1153.8 308.4 L1157.2 307.8 L1160.5 307.1 L1163.7 306.4 L1167 305.7 L1170.2 305 L1173.3 304.2 L1176.5 303.5 L1179.6 302.7 L1182.7 301.9 L1185.8 301 L1188.8 300.2 L1191.9 299.3 L1194.9 298.4 L1197.8 297.4 L1200.7 296.5 L1203.7 295.5 L1206.5 294.4 L1209.4 293.4 L1212.2 292.3 L1215 291.2 L1217.8 290 L1220.5 288.9 L1223.3 287.7 L1225.9 286.4 L1228.6 285.1 L1231.2 283.8 L1233.9 282.5 L1236.4 281.1 L1239 279.7 L1241.5 278.2 L1244 276.8 L1246.5 275.2 L1248.9 273.7 L1251.3 272.1 L1253.7 270.4 L1256.1 268.7 L1258.4 267 L1260.7 265.2 L1263 263.4 L1265.3 261.5 L1267.5 259.6 L1269.7 257.7 L1271.9 255.7 L1274 253.6 L1276.1 251.5 L1278.2 249.4 L1280.3 247.2 L1282.3 244.9 L1284.3 242.6 L1286.3 240.3 L1288.3 237.9 L1290.2 235.4 L1292.1 232.9 L1294 230.4 L1295.8 227.7 L1297.6 225.1 L1299.4 222.4 L1301.2 219.6 L1302.9 216.8 L1304.6 213.9 L1306.3 210.9 L1307.9 207.9 L1309.6 204.9 L1311.2 201.8 L1312.7 198.6 L1314.3 195.4 L1315.8 192.1 L1317.3 188.8 L1318.7 185.5 L1320.2 182 L1321.6 178.6 L1323 175 L1324.3 171.5 L1325.6 167.9 L1326.9 164.2 L1328.2 160.5 L1329.4 156.8 L1330.7 153 L1331.8 149.2 L1333 145.3 L1334.1 141.5 L1335.2 137.6 L1336.3 133.7 L1337.4 129.7 L1338.4 125.8 L1339.4 121.8 L1340.4 117.9 L1341.3 113.9 L1342.2 110 L1343.1 106 L1344 102.1 L1344.8 98.2 L1345.6 94.3 L1346.4 90.5 L1347.1 86.7 L1347.9 82.9 L1348.6 79.2 L1349.2 75.6 L1349.9 72.1 L1350.5 68.6 L1351.1 65.2 L1351.6 61.9 L1352.2 58.7 L1352.7 55.6 L1353.2 52.6 L1353.6 49.7 L1354 47 L1354.4 44.4 L1354.8 42 L1355.1 39.7 L1355.4 37.5 L1355.7 35.6 L1356 33.8 L1356.2 32.1 L1356.4 30.7 L1356.6 29.4 L1356.8 28.3 L1356.9 27.5 L1357 26.8 L1357 26.3 L1357.1 26.3 L1357.1 26.3" fill="none" stroke="#000" stroke-width="2.7"  />
<path d="M1357.1 26.3 L1470.7 26.3" fill="none" stroke="#a9682f" stroke-width="3.2" stroke-dasharray="24.5 19.8" />
<path d="M1470.7 26.3 L1470.7 26.3 L1470.7 26.3 L1470.7 26.5 L1470.7 26.9 L1470.7 27.5 L1470.8 28.3 L1470.8 29.1 L1470.9 30.2 L1471 31.3 L1471 32.7 L1471.1 34.1 L1471.2 35.8 L1471.3 37.6 L1471.5 39.7 L1471.6 42 L1471.7 44.7 L1471.9 47.7 L1472 51.3 L1472.2 55.6 L1472.4 60.6 L1472.6 66.4 L1472.8 72.9 L1473 80 L1473.2 87.5 L1473.5 95.4 L1473.7 103.2 L1474 111.2 L1474.3 119.7 L1474.6 128.4 L1474.9 137.3 L1475.2 146.3 L1475.5 155 L1475.8 163.6 L1476.2 172.1 L1476.6 180.6 L1476.9 189.1 L1477.3 197.7 L1477.7 206.5 L1478.1 215.4 L1478.6 224.5 L1479 233.6 L1479.5 242.6 L1479.9 251.4 L1480.4 260 L1480.9 268.9 L1481.4 277.9 L1481.9 287 L1482.5 296.1 L1483 305 L1483.6 313.5 L1484.2 321.5 L1484.8 328.8 L1485.4 335.3 L1486 341.1 L1486.6 346.4 L1487.2 351.3 L1487.9 356 L1488.6 360.6 L1489.3 365.4 L1490 370.1 L1490.7 374.6 L1491.4 379.1 L1492.2 383.4 L1492.9 387.7 L1493.7 391.9 L1494.5 396.2 L1495.3 400.5 L1496.1 404.8 L1496.9 408.9 L1497.8 413 L1498.6 417 L1499.5 421 L1500.4 424.9 L1501.3 428.7 L1502.2 432.4 L1503.1 436 L1504.1 439.4 L1505 442.8 L1506 446.3 L1507 449.7 L1508 452.9 L1509 455.9 L1510.1 458.6 L1511.1 461.2 L1512.2 463.8 L1513.3 466.3 L1514.4 468.7 L1515.5 471 L1516.6 473.2 L1517.8 475.3 L1518.9 477.2 L1520.1 479 L1521.3 480.7 L1522.5 482.3 L1523.7 483.9 L1524.9 485.3 L1526.2 486.6 L1527.5 487.9 L1528.7 489.1 L1530 490.2 L1531.4 491.3 L1532.7 492.3 L1534 493.3 L1535.4 494.2 L1536.8 495.1 L1538.2 495.9 L1539.6 496.7 L1541 497.5 L1542.4 498.3 L1543.9 499 L1545.4 499.6 L1546.9 500.2 L1548.4 500.8 L1549.9 501.3 L1551.4 501.8 L1553 502.2 L1554.5 502.7 L1556.1 503.1 L1557.7 503.5 L1559.3 503.9 L1561 504.3 L1562.6 504.6 L1564.3 505 L1566 505.3 L1567.7 505.5 L1569.4 505.8 L1571.1 506 L1572.9 506.1 L1574.6 506.3 L1576.4 506.4 L1578.2 506.5 L1580 506.6 L1581.9 506.7 L1583.7 506.8 L1585.6 506.9 L1587.5 506.9 L1589.4 507 L1591.3 507 L1593.2 507 L1595.1 507.1 L1597.1 507.1 L1599.1 507.1 L1601.1 507.1 L1603.1 507.1 L1605.1 507 L1607.2 507 L1609.3 507 L1611.3 507 L1613.4 506.9 L1615.6 506.9 L1617.7 506.8 L1619.8 506.8 L1622 506.7 L1624.2 506.7 L1626.4 506.6 L1628.6 506.5 L1630.8 506.5 L1633.1 506.4 L1635.4 506.3 L1637.7 506.3 L1640 506.2 L1642.3 506.1 L1644.6 506 L1647 506 L1649.4 505.9 L1651.7 505.8 L1654.2 505.7 L1656.6 505.7 L1659 505.6 L1661.5 505.5 L1664 505.4 L1666.5 505.3 L1669 505.3 L1671.5 505.2 L1674 505.1 L1676.6 505 L1679.2 504.9 L1681.8 504.8 L1684.4 504.7 L1687.1 504.6 L1689.7 504.5 L1692.4 504.4 L1695.1 504.3 L1697.8 504.2 L1700.5 504.1 L1703.2 504.1 L1706 504 L1708.8 503.9 L1711.6 503.9 L1714.4 503.8 L1717.2 503.8 L1720.1 503.7 L1722.9 503.7 L1725.8 503.6 L1728.7 503.6 L1731.6 503.5 L1734.6 503.4 L1737.5 503.4 L1740.5 503.3 L1743.5 503.3" fill="none" stroke="#000" stroke-width="2.7"  />
<path d="M1007.5 325.1 L1013.8 325 L1020.1 325 L1026.4 324.9 L1032.6 324.8 L1038.8 324.8 L1045 324.7 L1051.1 324.6 L1057.1 324.6 L1063.2 324.5 L1069.1 324.4 L1075.1 324.3 L1081 324.2 L1086.9 324.1 L1092.7 324 L1098.5 323.9 L1104.2 323.8 L1109.9 323.7 L1115.6 323.6 L1121.2 323.4 L1126.8 323.3 L1132.4 323.2 L1137.9 323 L1143.3 322.8 L1148.8 322.7 L1154.2 322.5 L1159.5 322.3 L1164.8 322.1 L1170.1 321.9 L1175.3 321.7 L1180.5 321.5 L1185.7 321.2 L1190.8 321 L1195.8 320.7 L1200.9 320.5 L1205.9 320.2 L1210.8 319.9 L1215.7 319.6 L1220.6 319.3 L1225.4 318.9 L1230.2 318.6 L1235 318.2 L1239.7 317.8 L1244.4 317.4 L1249 317 L1253.6 316.6 L1258.1 316.1 L1262.7 315.7 L1267.1 315.2 L1271.6 314.7 L1276 314.1 L1280.3 313.6 L1284.6 313 L1288.9 312.4 L1293.1 311.8 L1297.3 311.2 L1301.5 310.5 L1305.6 309.8 L1309.7 309.1 L1313.7 308.3 L1317.7 307.5 L1321.7 306.7 L1325.6 305.9 L1329.5 305 L1333.3 304.1 L1337.1 303.2 L1340.9 302.2 L1344.6 301.2 L1348.3 300.2 L1351.9 299.1 L1355.5 298 L1359.1 296.8 L1362.6 295.7 L1366.1 294.4 L1369.5 293.1 L1372.9 291.8 L1376.3 290.5 L1379.6 289.1 L1382.9 287.6 L1386.1 286.1 L1389.3 284.5 L1392.5 282.9 L1395.6 281.3 L1398.7 279.6 L1401.7 277.8 L1404.7 276 L1407.7 274.1 L1410.6 272.2 L1413.5 270.2 L1416.3 268.2 L1419.1 266 L1421.9 263.9 L1424.6 261.6 L1427.3 259.3 L1430 257 L1432.6 254.5 L1435.1 252 L1437.7 249.4 L1440.1 246.8 L1442.6 244 L1445 241.2 L1447.4 238.4 L1449.7 235.4 L1452 232.4 L1454.2 229.3 L1456.4 226.1 L1458.6 222.8 L1460.7 219.5 L1462.8 216 L1464.9 212.5 L1466.9 208.9 L1468.8 205.3 L1470.8 201.5 L1472.7 197.7 L1474.5 193.8 L1476.3 189.8 L1478.1 185.8 L1479.8 181.6 L1481.5 177.4 L1483.2 173.2 L1484.8 168.8 L1486.3 164.4 L1487.9 160 L1489.4 155.5 L1490.8 150.9 L1492.2 146.3 L1493.6 141.6 L1494.9 136.9 L1496.2 132.2 L1497.5 127.4 L1498.7 122.6 L1499.9 117.9 L1501 113.1 L1502.1 108.3 L1503.1 103.6 L1504.2 98.9 L1505.1 94.2 L1506.1 89.6 L1507 85 L1507.8 80.5 L1508.6 76.1 L1509.4 71.8 L1510.1 67.6 L1510.8 63.6 L1511.5 59.6 L1512.1 55.9 L1512.7 52.3 L1513.2 48.9 L1513.7 45.6 L1514.2 42.6 L1514.6 39.8 L1515 37.3 L1515.3 34.9 L1515.6 32.8 L1515.9 31 L1516.1 29.5 L1516.3 28.2 L1516.4 27.2 L1516.5 26.4 L1516.6 26.3 L1516.6 26.3" fill="none" stroke="#14ee1e" stroke-width="3.0" stroke-dasharray="24.5 19.8" />
<path d="M1516.6 26.3 L1632 26.3" fill="none" stroke="#a9682f" stroke-width="3.2" stroke-dasharray="24.5 19.8" />
<path d="M1632 26.3 L1632 26.3 L1632 26.3 L1632 26.3 L1632 26.4 L1632 26.6 L1632 26.9 L1632.1 27.3 L1632.1 27.7 L1632.1 28.2 L1632.1 28.8 L1632.2 29.5 L1632.2 30.2 L1632.3 30.9 L1632.3 31.7 L1632.4 32.6 L1632.4 33.6 L1632.5 34.7 L1632.6 35.8 L1632.6 37 L1632.7 38.3 L1632.8 39.6 L1632.9 41.2 L1633 42.8 L1633 44.6 L1633.1 46.6 L1633.2 48.8 L1633.4 51.2 L1633.5 54 L1633.6 57 L1633.7 60.5 L1633.8 64.2 L1634 68.3 L1634.1 72.7 L1634.3 77.4 L1634.4 82.2 L1634.6 87.3 L1634.7 92.5 L1634.9 97.7 L1635.1 102.9 L1635.2 108.2 L1635.4 113.7 L1635.6 119.4 L1635.8 125.2 L1636 131.1 L1636.2 137 L1636.4 142.9 L1636.6 148.8 L1636.8 154.6 L1637 160.3 L1637.3 166 L1637.5 171.7 L1637.8 177.4 L1638 183.1 L1638.3 188.8 L1638.5 194.5 L1638.8 200.2 L1639 206.1 L1639.3 212 L1639.6 218 L1639.9 224 L1640.2 230.1 L1640.5 236.1 L1640.8 242.1 L1641.1 248.1 L1641.4 253.9 L1641.7 259.6 L1642.1 265.4 L1642.4 271.3 L1642.7 277.4 L1643.1 283.4 L1643.4 289.5 L1643.8 295.5 L1644.1 301.5 L1644.5 307.3 L1644.9 313 L1645.3 318.4 L1645.7 323.5 L1646 328.3 L1646.4 332.8 L1646.8 336.9 L1647.3 340.7 L1647.7 344.4 L1648.1 347.8 L1648.5 351 L1649 354.1 L1649.4 357.2 L1649.9 360.3 L1650.3 363.4 L1650.8 366.6 L1651.2 369.7 L1651.7 372.8 L1652.2 375.8 L1652.7 378.7 L1653.2 381.6 L1653.7 384.5 L1654.2 387.3 L1654.7 390.2 L1655.2 393 L1655.7 395.9 L1656.3 398.7 L1656.8 401.6 L1657.3 404.4 L1657.9 407.2 L1658.5 410 L1659 412.7 L1659.6 415.4 L1660.2 418 L1660.7 420.6 L1661.3 423.3 L1661.9 425.9 L1662.5 428.4 L1663.1 430.9 L1663.7 433.3 L1664.4 435.6 L1665 437.9 L1665.6 440.2 L1666.3 442.5 L1666.9 444.8 L1667.6 447.1 L1668.2 449.3 L1668.9 451.5 L1669.6 453.6 L1670.3 455.6 L1671 457.5 L1671.6 459.2 L1672.3 460.9 L1673.1 462.7 L1673.8 464.3 L1674.5 466 L1675.2 467.6 L1676 469.2 L1676.7 470.7 L1677.4 472.2 L1678.2 473.7 L1679 475 L1679.7 476.3 L1680.5 477.6 L1681.3 478.8 L1682.1 480 L1682.9 481.1 L1683.7 482.2 L1684.5 483.2 L1685.3 484.2 L1686.1 485.1 L1687 486 L1687.8 486.9 L1688.6 487.7 L1689.5 488.5 L1690.3 489.3 L1691.2 490.1 L1692.1 490.8 L1693 491.5 L1693.8 492.2 L1694.7 492.9 L1695.6 493.5 L1696.5 494.1 L1697.5 494.7 L1698.4 495.3 L1699.3 495.8 L1700.2 496.4 L1701.2 496.9 L1702.1 497.4 L1703.1 497.9 L1704.1 498.4 L1705 498.9 L1706 499.3 L1707 499.8 L1708 500.2 L1709 500.5 L1710 500.9 L1711 501.2 L1712 501.6 L1713 501.9 L1714.1 502.2 L1715.1 502.5 L1716.2 502.7 L1717.2 503 L1718.3 503.3 L1719.4 503.6 L1720.4 503.8 L1721.5 504.1 L1722.6 504.3 L1723.7 504.6 L1724.8 504.8 L1725.9 505 L1727 505.2 L1728.2 505.4 L1729.3 505.6 L1730.5 505.7 L1731.6 505.9 L1732.8 506 L1733.9 506.1 L1735.1 506.2 L1736.3 506.3 L1737.5 506.4 L1738.7 506.5 L1739.9 506.5 L1741.1 506.6 L1742.3 506.7 L1743.5 506.7" fill="none" stroke="#14ee1e" stroke-width="3.0" stroke-dasharray="24.5 19.8" />
<path d="M1007.5 325.6 L1015.7 325.6 L1023.8 325.6 L1031.9 325.6 L1039.9 325.6 L1047.8 325.5 L1055.8 325.5 L1063.6 325.5 L1071.4 325.5 L1079.2 325.4 L1086.9 325.4 L1094.6 325.4 L1102.2 325.4 L1109.7 325.3 L1117.2 325.3 L1124.7 325.2 L1132.1 325.2 L1139.4 325.2 L1146.7 325.1 L1154 325.1 L1161.2 325 L1168.3 324.9 L1175.4 324.9 L1182.5 324.8 L1189.5 324.7 L1196.4 324.7 L1203.3 324.6 L1210.1 324.5 L1216.9 324.4 L1223.7 324.3 L1230.3 324.2 L1237 324.1 L1243.6 324 L1250.1 323.8 L1256.6 323.7 L1263 323.6 L1269.4 323.4 L1275.7 323.2 L1282 323.1 L1288.2 322.9 L1294.4 322.7 L1300.5 322.5 L1306.6 322.3 L1312.6 322.1 L1318.5 321.8 L1324.5 321.6 L1330.3 321.3 L1336.1 321.1 L1341.9 320.8 L1347.6 320.5 L1353.3 320.1 L1358.9 319.8 L1364.4 319.5 L1370 319.1 L1375.4 318.7 L1380.8 318.3 L1386.2 317.9 L1391.5 317.4 L1396.7 316.9 L1401.9 316.4 L1407.1 315.9 L1412.2 315.4 L1417.2 314.8 L1422.2 314.2 L1427.1 313.6 L1432 312.9 L1436.9 312.2 L1441.7 311.5 L1446.4 310.8 L1451.1 310 L1455.7 309.2 L1460.3 308.3 L1464.9 307.4 L1469.3 306.5 L1473.8 305.6 L1478.1 304.5 L1482.5 303.5 L1486.8 302.4 L1491 301.3 L1495.2 300.1 L1499.3 298.9 L1503.3 297.6 L1507.4 296.3 L1511.3 294.9 L1515.3 293.5 L1519.1 292 L1522.9 290.4 L1526.7 288.8 L1530.4 287.2 L1534.1 285.4 L1537.7 283.7 L1541.3 281.8 L1544.8 279.9 L1548.2 277.9 L1551.6 275.8 L1555 273.7 L1558.3 271.5 L1561.5 269.2 L1564.7 266.8 L1567.9 264.4 L1571 261.8 L1574 259.2 L1577 256.5 L1580 253.7 L1582.9 250.9 L1585.7 247.9 L1588.5 244.8 L1591.3 241.7 L1593.9 238.4 L1596.6 235 L1599.2 231.6 L1601.7 228 L1604.2 224.4 L1606.6 220.6 L1609 216.7 L1611.3 212.8 L1613.6 208.7 L1615.8 204.5 L1618 200.3 L1620.1 195.9 L1622.2 191.4 L1624.2 186.8 L1626.2 182.2 L1628.1 177.4 L1630 172.6 L1631.8 167.6 L1633.6 162.6 L1635.3 157.5 L1637 152.3 L1638.6 147.1 L1640.2 141.8 L1641.7 136.5 L1643.1 131.1 L1644.5 125.7 L1645.9 120.3 L1647.2 114.9 L1648.4 109.5 L1649.7 104.1 L1650.8 98.7 L1651.9 93.4 L1653 88.2 L1654 83 L1654.9 78 L1655.8 73.1 L1656.6 68.3 L1657.4 63.7 L1658.2 59.2 L1658.9 55 L1659.5 51 L1660.1 47.2 L1660.6 43.7 L1661.1 40.4 L1661.6 37.4 L1661.9 34.8 L1662.3 32.5 L1662.6 30.5 L1662.8 28.8 L1663 27.5 L1663.1 26.6 L1663.2 26.3 L1663.2 26.3" fill="none" stroke="#f97a78" stroke-width="2.7"  />
<path d="M1663.2 26.3 L1743.5 26.3" fill="none" stroke="#a9682f" stroke-width="3.2" stroke-dasharray="24.5 19.8" />
<path d="M1007.5 325.8 L1016.7 325.8 L1025.8 325.7 L1034.8 325.7 L1043.8 325.7 L1052.8 325.7 L1061.7 325.7 L1070.5 325.7 L1079.3 325.7 L1088 325.7 L1096.6 325.7 L1105.2 325.7 L1113.8 325.7 L1122.2 325.7 L1130.7 325.7 L1139 325.6 L1147.3 325.6 L1155.6 325.6 L1163.8 325.6 L1171.9 325.6 L1180 325.6 L1188 325.5 L1196 325.5 L1203.9 325.5 L1211.7 325.5 L1219.5 325.4 L1227.3 325.4 L1234.9 325.4 L1242.6 325.3 L1250.1 325.3 L1257.6 325.3 L1265.1 325.2 L1272.5 325.2 L1279.8 325.1 L1287.1 325.1 L1294.3 325 L1301.4 325 L1308.5 324.9 L1315.6 324.9 L1322.6 324.8 L1329.5 324.7 L1336.4 324.6 L1343.2 324.5 L1349.9 324.5 L1356.6 324.4 L1363.3 324.3 L1369.9 324.2 L1376.4 324 L1382.9 323.9 L1389.3 323.8 L1395.6 323.7 L1401.9 323.5 L1408.2 323.4 L1414.3 323.2 L1420.5 323.1 L1426.5 322.9 L1432.5 322.7 L1438.5 322.5 L1444.4 322.3 L1450.2 322.1 L1456 321.9 L1461.7 321.6 L1467.4 321.4 L1473 321.1 L1478.5 320.8 L1484 320.5 L1489.5 320.2 L1494.8 319.9 L1500.2 319.6 L1505.4 319.2 L1510.6 318.9 L1515.8 318.5 L1520.9 318.1 L1525.9 317.7 L1530.9 317.3 L1535.8 316.8 L1540.6 316.3 L1545.4 315.8 L1550.2 315.3 L1554.9 314.8 L1559.5 314.2 L1564.1 313.7 L1568.6 313.1 L1573 312.5 L1577.4 311.8 L1581.8 311.1 L1586.1 310.4 L1590.3 309.7 L1594.5 309 L1598.6 308.2 L1602.6 307.4 L1606.6 306.6 L1610.6 305.8 L1614.4 304.9 L1618.3 304 L1622 303 L1625.7 302.1 L1629.4 301.1 L1633 300.1 L1636.5 299 L1640 297.9 L1643.4 296.8 L1646.8 295.7 L1650.1 294.5 L1653.3 293.3 L1656.5 292.1 L1659.7 290.8 L1662.7 289.6 L1665.8 288.2 L1668.7 286.9 L1671.6 285.5 L1674.5 284.1 L1677.3 282.7 L1680 281.3 L1682.7 279.8 L1685.3 278.3 L1687.8 276.7 L1690.3 275.2 L1692.8 273.6 L1695.2 272 L1697.5 270.4 L1699.8 268.8 L1702 267.2 L1704.1 265.5 L1706.2 263.9 L1708.3 262.2 L1710.3 260.5 L1712.2 258.8 L1714.1 257.2 L1715.9 255.5 L1717.6 253.8 L1719.3 252.1 L1721 250.5 L1722.5 248.8 L1724.1 247.2 L1725.5 245.6 L1726.9 244 L1728.3 242.4 L1729.6 240.9 L1730.8 239.4 L1732 238 L1733.1 236.5 L1734.2 235.2 L1735.2 233.9 L1736.1 232.6 L1737 231.4 L1737.9 230.2 L1738.6 229.1 L1739.4 228.1 L1740 227.1 L1740.6 226.3 L1741.2 225.5 L1741.7 224.7 L1742.1 224.1 L1742.5 223.5 L1742.8 223 L1743 222.6 L1743.2 222.3 L1743.4 222.1 L1743.5 222 L1743.5 221.9" fill="none" stroke="#0d0df0" stroke-width="3.0" stroke-dasharray="24.5 19.8" />
<path d="M1007.5 325.8 L1016.7 325.8 L1025.8 325.8 L1034.8 325.8 L1043.8 325.8 L1052.8 325.8 L1061.7 325.8 L1070.5 325.8 L1079.3 325.8 L1088 325.8 L1096.6 325.8 L1105.2 325.8 L1113.8 325.8 L1122.2 325.8 L1130.7 325.8 L1139 325.8 L1147.3 325.8 L1155.6 325.8 L1163.8 325.7 L1171.9 325.7 L1180 325.7 L1188 325.7 L1196 325.7 L1203.9 325.7 L1211.7 325.7 L1219.5 325.7 L1227.3 325.7 L1234.9 325.7 L1242.6 325.7 L1250.1 325.7 L1257.6 325.7 L1265.1 325.7 L1272.5 325.6 L1279.8 325.6 L1287.1 325.6 L1294.3 325.6 L1301.4 325.6 L1308.5 325.6 L1315.6 325.6 L1322.6 325.5 L1329.5 325.5 L1336.4 325.5 L1343.2 325.5 L1349.9 325.5 L1356.6 325.4 L1363.3 325.4 L1369.9 325.4 L1376.4 325.4 L1382.9 325.3 L1389.3 325.3 L1395.6 325.3 L1401.9 325.2 L1408.2 325.2 L1414.3 325.2 L1420.5 325.1 L1426.5 325.1 L1432.5 325 L1438.5 325 L1444.4 324.9 L1450.2 324.9 L1456 324.8 L1461.7 324.8 L1467.4 324.7 L1473 324.7 L1478.5 324.6 L1484 324.5 L1489.5 324.5 L1494.8 324.4 L1500.2 324.3 L1505.4 324.2 L1510.6 324.1 L1515.8 324 L1520.9 323.9 L1525.9 323.9 L1530.9 323.8 L1535.8 323.6 L1540.6 323.5 L1545.4 323.4 L1550.2 323.3 L1554.9 323.2 L1559.5 323.1 L1564.1 322.9 L1568.6 322.8 L1573 322.7 L1577.4 322.5 L1581.8 322.4 L1586.1 322.2 L1590.3 322 L1594.5 321.9 L1598.6 321.7 L1602.6 321.5 L1606.6 321.4 L1610.6 321.2 L1614.4 321 L1618.3 320.8 L1622 320.6 L1625.7 320.4 L1629.4 320.2 L1633 320 L1636.5 319.8 L1640 319.5 L1643.4 319.3 L1646.8 319.1 L1650.1 318.8 L1653.3 318.6 L1656.5 318.4 L1659.7 318.1 L1662.7 317.9 L1665.8 317.6 L1668.7 317.4 L1671.6 317.1 L1674.5 316.8 L1677.3 316.6 L1680 316.3 L1682.7 316 L1685.3 315.8 L1687.8 315.5 L1690.3 315.2 L1692.8 314.9 L1695.2 314.7 L1697.5 314.4 L1699.8 314.1 L1702 313.8 L1704.1 313.5 L1706.2 313.3 L1708.3 313 L1710.3 312.7 L1712.2 312.4 L1714.1 312.2 L1715.9 311.9 L1717.6 311.6 L1719.3 311.4 L1721 311.1 L1722.5 310.9 L1724.1 310.6 L1725.5 310.4 L1726.9 310.2 L1728.3 309.9 L1729.6 309.7 L1730.8 309.5 L1732 309.3 L1733.1 309.1 L1734.2 308.9 L1735.2 308.7 L1736.1 308.5 L1737 308.3 L1737.9 308.2 L1738.6 308 L1739.4 307.9 L1740 307.8 L1740.6 307.6 L1741.2 307.5 L1741.7 307.4 L1742.1 307.4 L1742.5 307.3 L1742.8 307.2 L1743 307.2 L1743.2 307.1 L1743.4 307.1 L1743.5 307.1 L1743.5 307.1" fill="none" stroke="#f80d12" stroke-width="3.0" stroke-dasharray="24.5 19.8" />
</g>
<rect x="1004.1" y="17.2" width="4.3" height="528.6" fill="#000" /><rect x="1743.4" y="17.2" width="4.6" height="528.6" fill="#000" /><rect x="1004.1" y="17.2" width="743.9" height="4.9" fill="#000" /><rect x="1004.1" y="540.9" width="743.9" height="4.9" fill="#000" />
<rect x="1043.1" y="540" width="2.4" height="1" fill="#000" />
<rect x="1043.1" y="22" width="2.4" height="1" fill="#000" />
<rect x="1079.2" y="538.6" width="3.8" height="2.4" fill="#000" />
<rect x="1079.2" y="22" width="3.8" height="2.4" fill="#000" />
<rect x="1116.7" y="540" width="2.4" height="1" fill="#000" />
<rect x="1116.7" y="22" width="2.4" height="1" fill="#000" />
<rect x="1153.5" y="540" width="2.4" height="1" fill="#000" />
<rect x="1153.5" y="22" width="2.4" height="1" fill="#000" />
<rect x="1190.3" y="540" width="2.4" height="1" fill="#000" />
<rect x="1190.3" y="22" width="2.4" height="1" fill="#000" />
<rect x="1226.4" y="538.6" width="3.8" height="2.4" fill="#000" />
<rect x="1226.4" y="22" width="3.8" height="2.4" fill="#000" />
<rect x="1263.9" y="540" width="2.4" height="1" fill="#000" />
<rect x="1263.9" y="22" width="2.4" height="1" fill="#000" />
<rect x="1300.7" y="540" width="2.4" height="1" fill="#000" />
<rect x="1300.7" y="22" width="2.4" height="1" fill="#000" />
<rect x="1337.5" y="540" width="2.4" height="1" fill="#000" />
<rect x="1337.5" y="22" width="2.4" height="1" fill="#000" />
<rect x="1373.6" y="538.6" width="3.8" height="2.4" fill="#000" />
<rect x="1373.6" y="22" width="3.8" height="2.4" fill="#000" />
<rect x="1411.1" y="540" width="2.4" height="1" fill="#000" />
<rect x="1411.1" y="22" width="2.4" height="1" fill="#000" />
<rect x="1447.9" y="540" width="2.4" height="1" fill="#000" />
<rect x="1447.9" y="22" width="2.4" height="1" fill="#000" />
<rect x="1484.7" y="540" width="2.4" height="1" fill="#000" />
<rect x="1484.7" y="22" width="2.4" height="1" fill="#000" />
<rect x="1520.8" y="538.6" width="3.8" height="2.4" fill="#000" />
<rect x="1520.8" y="22" width="3.8" height="2.4" fill="#000" />
<rect x="1558.3" y="540" width="2.4" height="1" fill="#000" />
<rect x="1558.3" y="22" width="2.4" height="1" fill="#000" />
<rect x="1595.1" y="540" width="2.4" height="1" fill="#000" />
<rect x="1595.1" y="22" width="2.4" height="1" fill="#000" />
<rect x="1631.9" y="540" width="2.4" height="1" fill="#000" />
<rect x="1631.9" y="22" width="2.4" height="1" fill="#000" />
<rect x="1668" y="538.6" width="3.8" height="2.4" fill="#000" />
<rect x="1668" y="22" width="3.8" height="2.4" fill="#000" />
<rect x="1705.5" y="540" width="2.4" height="1" fill="#000" />
<rect x="1705.5" y="22" width="2.4" height="1" fill="#000" />
<rect x="1008.3" y="523.1" width="2.5" height="3.8" fill="#000" />
<rect x="1741" y="523.1" width="2.5" height="3.8" fill="#000" />
<rect x="1008.3" y="507.2" width="1" height="2.4" fill="#000" />
<rect x="1742.5" y="507.2" width="1" height="2.4" fill="#000" />
<rect x="1008.3" y="490.6" width="1" height="2.4" fill="#000" />
<rect x="1742.5" y="490.6" width="1" height="2.4" fill="#000" />
<rect x="1008.3" y="474" width="1" height="2.4" fill="#000" />
<rect x="1742.5" y="474" width="1" height="2.4" fill="#000" />
<rect x="1008.3" y="456.7" width="2.5" height="3.8" fill="#000" />
<rect x="1741" y="456.7" width="2.5" height="3.8" fill="#000" />
<rect x="1008.3" y="440.8" width="1" height="2.4" fill="#000" />
<rect x="1742.5" y="440.8" width="1" height="2.4" fill="#000" />
<rect x="1008.3" y="424.2" width="1" height="2.4" fill="#000" />
<rect x="1742.5" y="424.2" width="1" height="2.4" fill="#000" />
<rect x="1008.3" y="407.6" width="1" height="2.4" fill="#000" />
<rect x="1742.5" y="407.6" width="1" height="2.4" fill="#000" />
<rect x="1008.3" y="390.3" width="2.5" height="3.8" fill="#000" />
<rect x="1741" y="390.3" width="2.5" height="3.8" fill="#000" />
<rect x="1008.3" y="374.4" width="1" height="2.4" fill="#000" />
<rect x="1742.5" y="374.4" width="1" height="2.4" fill="#000" />
<rect x="1008.3" y="357.8" width="1" height="2.4" fill="#000" />
<rect x="1742.5" y="357.8" width="1" height="2.4" fill="#000" />
<rect x="1008.3" y="341.2" width="1" height="2.4" fill="#000" />
<rect x="1742.5" y="341.2" width="1" height="2.4" fill="#000" />
<rect x="1008.3" y="323.9" width="2.5" height="3.8" fill="#000" />
<rect x="1741" y="323.9" width="2.5" height="3.8" fill="#000" />
<rect x="1008.3" y="308" width="1" height="2.4" fill="#000" />
<rect x="1742.5" y="308" width="1" height="2.4" fill="#000" />
<rect x="1008.3" y="291.4" width="1" height="2.4" fill="#000" />
<rect x="1742.5" y="291.4" width="1" height="2.4" fill="#000" />
<rect x="1008.3" y="274.8" width="1" height="2.4" fill="#000" />
<rect x="1742.5" y="274.8" width="1" height="2.4" fill="#000" />
<rect x="1008.3" y="257.5" width="2.5" height="3.8" fill="#000" />
<rect x="1741" y="257.5" width="2.5" height="3.8" fill="#000" />
<rect x="1008.3" y="241.6" width="1" height="2.4" fill="#000" />
<rect x="1742.5" y="241.6" width="1" height="2.4" fill="#000" />
<rect x="1008.3" y="225" width="1" height="2.4" fill="#000" />
<rect x="1742.5" y="225" width="1" height="2.4" fill="#000" />
<rect x="1008.3" y="208.4" width="1" height="2.4" fill="#000" />
<rect x="1742.5" y="208.4" width="1" height="2.4" fill="#000" />
<rect x="1008.3" y="191.1" width="2.5" height="3.8" fill="#000" />
<rect x="1741" y="191.1" width="2.5" height="3.8" fill="#000" />
<rect x="1008.3" y="175.2" width="1" height="2.4" fill="#000" />
<rect x="1742.5" y="175.2" width="1" height="2.4" fill="#000" />
<rect x="1008.3" y="158.6" width="1" height="2.4" fill="#000" />
<rect x="1742.5" y="158.6" width="1" height="2.4" fill="#000" />
<rect x="1008.3" y="142" width="1" height="2.4" fill="#000" />
<rect x="1742.5" y="142" width="1" height="2.4" fill="#000" />
<rect x="1008.3" y="124.7" width="2.5" height="3.8" fill="#000" />
<rect x="1741" y="124.7" width="2.5" height="3.8" fill="#000" />
<rect x="1008.3" y="108.8" width="1" height="2.4" fill="#000" />
<rect x="1742.5" y="108.8" width="1" height="2.4" fill="#000" />
<rect x="1008.3" y="92.2" width="1" height="2.4" fill="#000" />
<rect x="1742.5" y="92.2" width="1" height="2.4" fill="#000" />
<rect x="1008.3" y="75.6" width="1" height="2.4" fill="#000" />
<rect x="1742.5" y="75.6" width="1" height="2.4" fill="#000" />
<rect x="1008.3" y="58.3" width="2.5" height="3.8" fill="#000" />
<rect x="1741" y="58.3" width="2.5" height="3.8" fill="#000" />
<rect x="1008.3" y="42.4" width="1" height="2.4" fill="#000" />
<rect x="1742.5" y="42.4" width="1" height="2.4" fill="#000" />
<rect x="1008.3" y="25.8" width="1" height="2.4" fill="#000" />
<rect x="1742.5" y="25.8" width="1" height="2.4" fill="#000" />
<text transform="translate(1079.6 559) scale(0.97 1.0)" font-size="13" font-weight="bold" text-anchor="middle" fill="#000" >−4</text>
<text transform="translate(1226.8 559) scale(0.97 1.0)" font-size="13" font-weight="bold" text-anchor="middle" fill="#000" >−2</text>
<text transform="translate(1375.5 559) scale(0.97 1.0)" font-size="13" font-weight="bold" text-anchor="middle" fill="#000" >0</text>
<text transform="translate(1522.7 559) scale(0.97 1.0)" font-size="13" font-weight="bold" text-anchor="middle" fill="#000" >2</text>
<text transform="translate(1669.9 559) scale(0.97 1.0)" font-size="13" font-weight="bold" text-anchor="middle" fill="#000" >4</text>
<text transform="translate(1002.6 529.6) scale(0.95 1.0)" font-size="13.6" font-weight="bold" text-anchor="end" fill="#000" >−6</text>
<text transform="translate(1002.6 463.2) scale(0.95 1.0)" font-size="13.6" font-weight="bold" text-anchor="end" fill="#000" >−4</text>
<text transform="translate(1002.6 396.8) scale(0.95 1.0)" font-size="13.6" font-weight="bold" text-anchor="end" fill="#000" >−2</text>
<text transform="translate(1002.6 330.4) scale(0.95 1.0)" font-size="13.6" font-weight="bold" text-anchor="end" fill="#000" >0</text>
<text transform="translate(1002.6 264) scale(0.95 1.0)" font-size="13.6" font-weight="bold" text-anchor="end" fill="#000" >2</text>
<text transform="translate(1002.6 197.6) scale(0.95 1.0)" font-size="13.6" font-weight="bold" text-anchor="end" fill="#000" >4</text>
<text transform="translate(1002.6 131.2) scale(0.95 1.0)" font-size="13.6" font-weight="bold" text-anchor="end" fill="#000" >6</text>
<text transform="translate(1002.6 64.8) scale(0.95 1.0)" font-size="13.6" font-weight="bold" text-anchor="end" fill="#000" >8</text>
<text transform="translate(1375.7 13.4)" font-size="14.2" font-weight="bold" text-anchor="middle" fill="#000" >(b)</text>
<text transform="translate(1376 587.2) scale(0.94 1.0)" font-size="17" font-weight="bold" text-anchor="middle" fill="#000" >x−axis</text>
<text transform="translate(978 278.3) rotate(-90) scale(1.19 1.0)" font-size="15.6" font-weight="bold" text-anchor="middle" fill="#000" >Re Θ<tspan font-size="10" dy="3">33</tspan><tspan dy="-3">(x, t)</tspan></text>
<!-- panel a -->
<path d="M415.3 351.7 L434.3 413.3 L450.1 407.8 L469.9 397.5 L469.9 367.5Z" fill="#a7b543"/>
<path d="M415.3 351.7 L434.3 413.3 L440 411.5 L424 354Z" fill="#8c9a36" filter="url(#blA1)"/>
<path d="M434.3 413.3 L450.1 407.8 L469.9 397.5 L469.9 367.5" fill="none" stroke="#000" stroke-width="1.6" stroke-linejoin="round"/>
<g clip-path="url(#clipA)">
<rect x="140" y="70" width="810" height="350" fill="url(#gWall)"/>
<rect x="320" y="250" width="160" height="110" fill="url(#gWallLow)"/>
<path d="M419.5 149L428.5 345" stroke="#3a4208" stroke-opacity="0.6" stroke-width="1.3" filter="url(#blA1)"/>
<path d="M427 148L434 340" stroke="#3a4208" stroke-opacity="0.35" stroke-width="1.0" filter="url(#blA1)"/>
<path d="M436 146.5L441 335" stroke="#3a4208" stroke-opacity="0.5" stroke-width="1.2" filter="url(#blA1)"/>
<path d="M447.5 145L450.5 330" stroke="#3a4208" stroke-opacity="0.6" stroke-width="1.4" filter="url(#blA1)"/>
<g filter="url(#blA3)"><path d="M380 352C382.5 351.6 390.2 350.2 395 349.5C399.8 348.8 401.5 349.8 409 347.5C416.5 345.2 432.2 338.7 440 335.5C447.8 332.3 450.7 331 456 328.5C461.3 326 466.7 323.2 472 320.5C477.3 317.8 480 316.2 488 312.5C496 308.8 509.5 302.8 520 298.5C530.5 294.2 539.3 291.2 551 287C562.7 282.8 579.3 277.3 590 273C600.7 268.7 608 265.2 615 261C622 256.8 627.5 252.2 632 248C636.5 243.8 639 239.7 642 236C645 232.3 640.3 227.7 650 226C659.7 224.3 648.3 220.3 700 226C751.7 231.7 916.7 254.3 960 260 L960 420 L380 420Z" fill="url(#gFloor)"/></g>
<path d="M555 279 Q610 262 662 240 L652 226 Q600 246 548 262Z" fill="#f8e65e" fill-opacity="0.9" filter="url(#blA6)"/>
<path d="M580 263 Q612 253 642 240 L638 232 Q610 244 576 254Z" fill="#fcee68" fill-opacity="0.8" filter="url(#blA3)"/>
<path d="M346 252 L352 256 L358 270 L366 298 L374 322 L384 338 L400 346 L412 332 L396 300 L384 268 L372 246 Z" fill="#c4d658" fill-opacity="0.55" filter="url(#blA6)"/>
<path d="M560 283 Q640 258 730 243.5" stroke="#3c5a30" stroke-opacity="0.35" stroke-width="1.6" fill="none" filter="url(#blA1)"/>
<g filter="url(#blA2)"><path d="M140 220 L398 178 L397 188 L392 199 L385 211 L375 225 L364 237 L352 247 L343 251 L334 257 L322 264 L310 268 L140 236Z" fill="url(#gPlat)"/></g>
<path d="M408 149C412.5 147.7 425.4 143.9 434.9 141.2C444.4 138.5 454.9 135.9 464.9 133C474.9 130.1 484.8 126.8 494.8 123.6C504.8 120.4 514.8 117 524.8 113.6C534.8 110.2 544.7 106.9 554.7 103.2C564.7 99.5 577.5 94.5 584.7 91.6C591.9 88.7 595.8 86.9 598 85.9 L628.9 89.8 L628.9 89.8C624 91.8 609.6 97.7 599.7 101.5C589.8 105.3 579.7 109.1 569.7 112.7C559.7 116.3 549.8 119.8 539.8 123.2C529.8 126.6 519.8 130 509.8 132.9C499.8 135.8 486.4 138.9 479.9 140.4C473.4 141.9 474.9 141.5 470.9 141.9C466.9 142.3 461.9 142.6 455.9 143.1C449.9 143.6 440.9 144.4 434.9 145.1C428.9 145.8 424.5 146.5 420 147.2C415.5 147.8 410 148.7 408 149Z" fill="#b87a3c"/>
</g>
<path d="M152.4 230.6 L394.7 189.8 L394.7 189.8C395.2 188.3 396.8 184.1 397.8 181C398.8 177.9 399.7 174.5 400.8 171C401.9 167.5 403 163.7 404.2 160C405.4 156.3 407.4 150.8 408 149 L408 149C412.5 147.7 425.4 143.9 434.9 141.2C444.4 138.5 454.9 135.9 464.9 133C474.9 130.1 484.8 126.8 494.8 123.6C504.8 120.4 514.8 117 524.8 113.6C534.8 110.2 544.7 106.9 554.7 103.2C564.7 99.5 577.5 94.5 584.7 91.6C591.9 88.7 595.8 86.9 598 85.9 L628.9 89.8 L628.9 89.8C628.8 94.8 628.3 110.8 628.3 120C628.2 129.2 628.4 135.8 628.6 144.9C628.9 154 629.1 164.8 629.8 174.8C630.5 184.8 631.5 197.5 632.6 204.8C633.7 212.1 634.8 214.8 636.5 218.5C638.2 222.2 640.6 225.1 643 227.2C645.4 229.3 647.3 230.2 651 231.3C654.7 232.4 662.7 233.1 665 233.5 L665 233.5 L730 242.6 L937.8 278.8 L548.9 388.8 L548.9 388.8C546.7 388.3 543 387.7 535.5 385.7C528 383.7 514.4 379.8 503.9 377C493.3 374.2 482.8 372 472.2 369.1C461.6 366.2 450.1 362.5 440.6 359.6C431.1 356.7 421.6 353.6 415.3 351.7C409 349.8 406.9 349.6 402.7 348.5C398.5 347.4 393.8 347 390.1 345.4C386.4 343.8 383.2 342 380.6 339.1C378 336.2 376.4 332.8 374.3 328C372.2 323.2 370 317.2 367.9 310.6C365.8 304 363.7 295.9 361.6 288.5C359.5 281.1 357.2 271.9 355.3 266.4C353.4 260.9 352.2 257.9 350.5 255.3C348.8 252.7 346.8 251.2 345 250.5C343.2 249.8 342 250 339.5 251.3C337 252.6 333.2 256.5 330 258.4C326.8 260.3 323.4 262 320 262.8C316.6 263.6 311.4 263.1 309.7 263.2 L152.4 230.6Z" fill="none" stroke="#000" stroke-width="2.3" stroke-linejoin="round"/>
<path d="M628.9 89.8C624 91.8 609.6 97.7 599.7 101.5C589.8 105.3 579.7 109.1 569.7 112.7C559.7 116.3 549.8 119.8 539.8 123.2C529.8 126.6 519.8 130 509.8 132.9C499.8 135.8 486.4 138.9 479.9 140.4C473.4 141.9 474.9 141.5 470.9 141.9C466.9 142.3 461.9 142.6 455.9 143.1C449.9 143.6 440.9 144.4 434.9 145.1C428.9 145.8 424.5 146.5 420 147.2C415.5 147.8 410 148.7 408 149" fill="none" stroke="#000" stroke-width="2.1"/>
<path d="M140.0 127.5 L152.6 375.6 L556.8 503.6 L942.3 372.4" fill="none" stroke="#000" stroke-width="4.6" stroke-linejoin="miter" stroke-linecap="round"/>
<path d="M140.2 131.4l5.0 -0.6M140.8 142.6l5.0 -0.6M141.3 153.8l5.0 -0.6M141.9 165l5.0 -0.6M142.5 176l6.4 -0.6M143 187l5.0 -0.6M143.6 197.8l5.0 -0.6M144.1 208.6l5.0 -0.6M144.7 219.4l5.0 -0.6M145.2 230l6.4 -0.6M145.7 240.6l5.0 -0.6M146.3 251l5.0 -0.6M146.8 261.4l5.0 -0.6M147.3 271.8l5.0 -0.6M147.8 282l6.4 -0.6M148.4 292.2l5.0 -0.6M148.9 302.2l5.0 -0.6M149.4 312.2l5.0 -0.6M149.9 322.2l5.0 -0.6M150.4 332l6.4 -0.6M150.9 341.8l5.0 -0.6M151.4 351.4l5.0 -0.6M151.9 361l5.0 -0.6" stroke="#000" stroke-width="3.8" stroke-linecap="round" fill="none"/>
<path d="M159.2 377.7l0.3 -6.5M192 388.1l0.3 -4.2M225.8 398.8l0.3 -4.2M259.6 409.5l0.3 -4.2M296 421l0.3 -4.2M333.7 432.9l0.3 -6.5M373 445.4l0.3 -4.2M414 458.4l0.3 -4.2M456.4 471.8l0.3 -4.2M501.4 486.1l0.3 -4.2M548.6 501l0.3 -6.5M559.4 502.7l0 -6.5M605.7 487l0 -4.2M650.3 471.8l0 -4.2M692.9 457.3l0 -4.2M733.1 443.6l0 -4.2M772 430.4l0 -6.5M809.1 417.7l0 -4.2M844.6 405.7l0 -4.2M878.6 394.1l0 -4.2M910.9 383.1l0 -4.2M942.3 372.4l0 -6.5" stroke="#000" stroke-width="3.8" stroke-linecap="round" fill="none"/>
<text transform="translate(547.3 75.9) scale(1.2 1.0)" font-size="13.8" font-weight="bold" text-anchor="middle" fill="#000" >(a)</text>
<text transform="translate(134 183.6)" font-size="13" font-weight="bold" text-anchor="end" fill="#000" >5</text>
<text transform="translate(135 237.2)" font-size="13" font-weight="bold" text-anchor="end" fill="#000" >0</text>
<text transform="translate(138 289.6)" font-size="13" font-weight="bold" text-anchor="end" fill="#000" >−5</text>
<text transform="translate(141 341.4)" font-size="13" font-weight="bold" text-anchor="end" fill="#000" >−10</text>
<text transform="translate(160 398.6)" font-size="13" font-weight="bold" text-anchor="middle" fill="#000" >5</text>
<text transform="translate(334 453.2)" font-size="13" font-weight="bold" text-anchor="middle" fill="#000" >0</text>
<text transform="translate(549.5 522.8)" font-size="13" font-weight="bold" text-anchor="middle" fill="#000" >−5</text>
<text transform="translate(563.6 525)" font-size="13" font-weight="bold" text-anchor="middle" fill="#000" >5</text>
<text transform="translate(771.4 450.8)" font-size="13" font-weight="bold" text-anchor="middle" fill="#000" >0</text>
<text transform="translate(940.6 392.2)" font-size="13" font-weight="bold" text-anchor="middle" fill="#000" >5</text>
<text transform="translate(334 494) scale(1.1 1.0)" font-size="17.5" font-weight="bold" text-anchor="middle" fill="#000" >t−axis</text>
<text transform="translate(772 492) scale(1.1 1.0)" font-size="17.5" font-weight="bold" text-anchor="middle" fill="#000" >x−axis</text>
<text transform="translate(4.5 274.5) scale(1.06 1.0)" font-size="18" font-weight="bold" text-anchor="start" fill="#000" >Re Θ<tspan font-size="11.5" dy="3.5">33</tspan><tspan dy="-3.5">(x, t)</tspan></text>
</svg>
</body></html>
